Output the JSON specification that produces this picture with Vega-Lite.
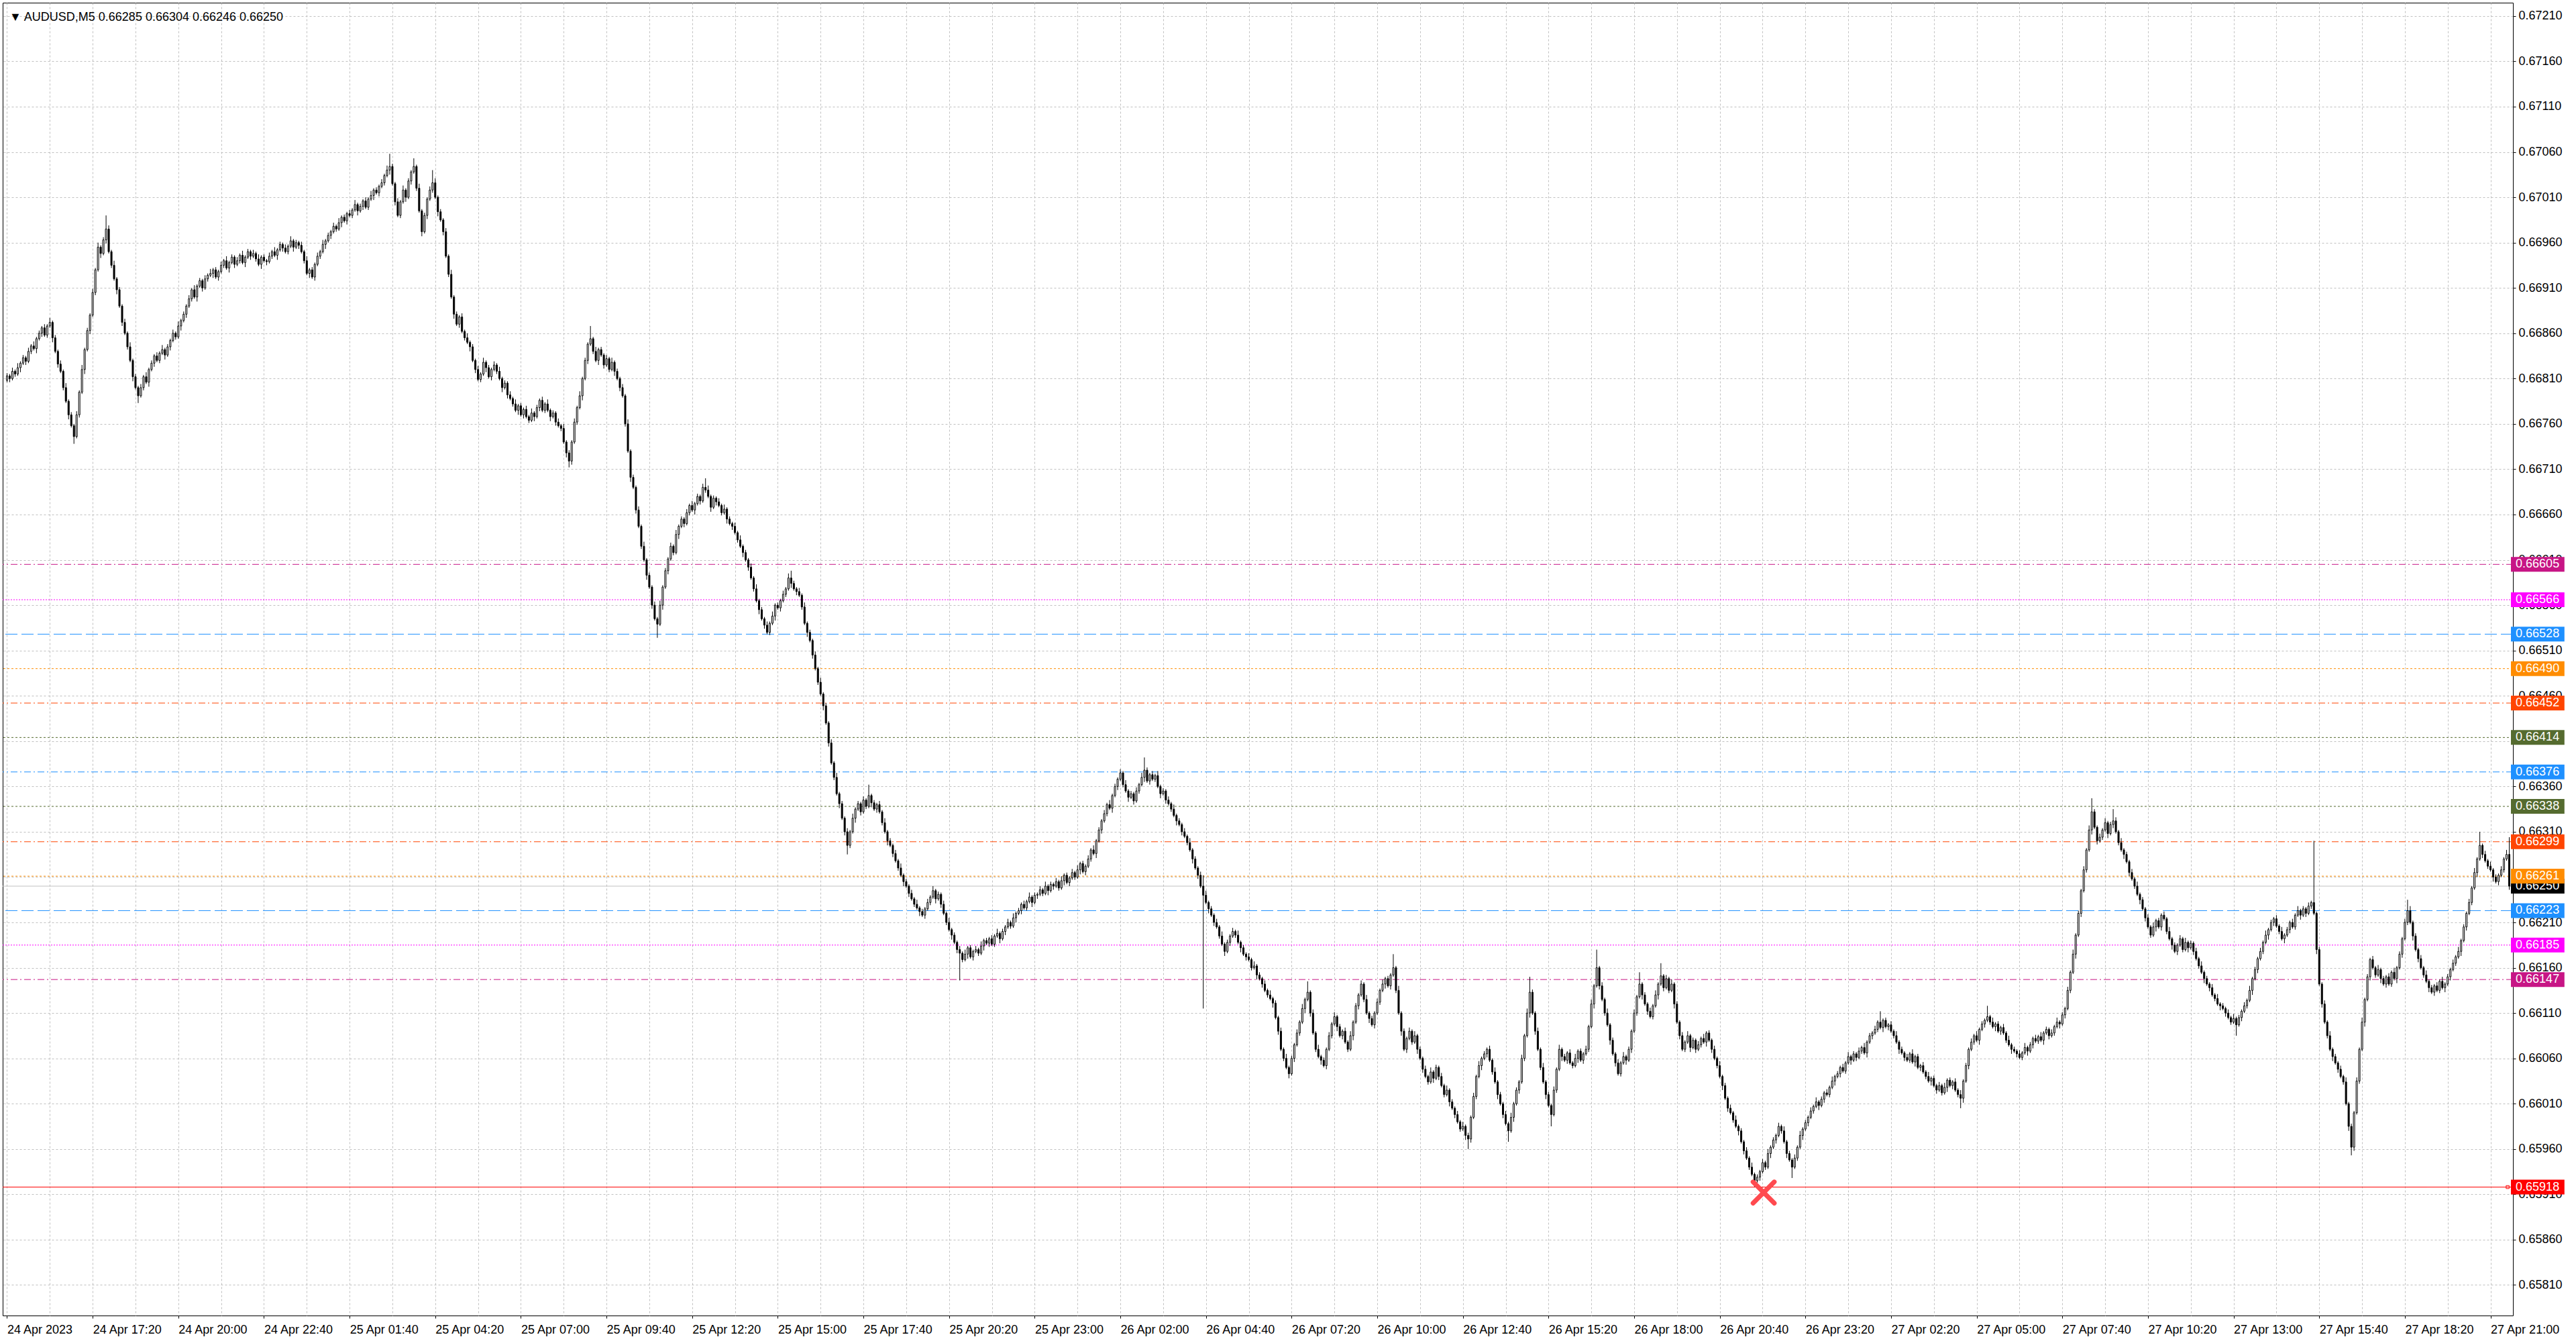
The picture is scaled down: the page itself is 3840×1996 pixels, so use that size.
{
"$schema":"https://vega.github.io/schema/vega-lite/v6.json",
"width":3742,"height":1957,"autosize":"none",
"padding":{"left":4,"top":4,"right":94,"bottom":35},
"background":"#FFFFFF",
"config":{"view":{"stroke":"#000000","strokeWidth":1},"font":"Liberation Sans"},
"datasets":{
"levels":[
{"p":0.6625,"lv":"bid"},
{"p":0.66605,"lv":"6"},{"p":0.66566,"lv":"5"},{"p":0.66528,"lv":"4"},{"p":0.6649,"lv":"3"},{"p":0.66452,"lv":"2"},{"p":0.66414,"lv":"1"},{"p":0.66376,"lv":"0"},{"p":0.66338,"lv":"1"},{"p":0.66299,"lv":"2"},{"p":0.66261,"lv":"3"},{"p":0.66223,"lv":"4"},{"p":0.66185,"lv":"5"},{"p":0.66147,"lv":"6"},{"p":0.65918,"lv":"low"}
],
"bars":[
{"i":0,"o":0.66808,"h":0.66816,"l":0.66806,"c":0.66813},
{"i":1,"o":0.66813,"h":0.66815,"l":0.66806,"c":0.66810},
{"i":2,"o":0.66810,"h":0.66822,"l":0.66808,"c":0.66818},
{"i":3,"o":0.66818,"h":0.66820,"l":0.66812,"c":0.66815},
{"i":4,"o":0.66815,"h":0.66827,"l":0.66813,"c":0.66822},
{"i":5,"o":0.66822,"h":0.66829,"l":0.66817,"c":0.66827},
{"i":6,"o":0.66827,"h":0.66836,"l":0.66825,"c":0.66833},
{"i":7,"o":0.66833,"h":0.66835,"l":0.66825,"c":0.66829},
{"i":8,"o":0.66829,"h":0.66844,"l":0.66827,"c":0.66840},
{"i":9,"o":0.66840,"h":0.66848,"l":0.66837,"c":0.66846},
{"i":10,"o":0.66846,"h":0.66851,"l":0.66841,"c":0.66843},
{"i":11,"o":0.66843,"h":0.66856,"l":0.66838,"c":0.66854},
{"i":12,"o":0.66854,"h":0.66863,"l":0.66852,"c":0.66860},
{"i":13,"o":0.66860,"h":0.66868,"l":0.66856,"c":0.66866},
{"i":14,"o":0.66866,"h":0.66870,"l":0.66856,"c":0.66858},
{"i":15,"o":0.66858,"h":0.66870,"l":0.66855,"c":0.66868},
{"i":16,"o":0.66868,"h":0.66877,"l":0.66866,"c":0.66872},
{"i":17,"o":0.66872,"h":0.66874,"l":0.66850,"c":0.66855},
{"i":18,"o":0.66855,"h":0.66858,"l":0.66838,"c":0.66840},
{"i":19,"o":0.66840,"h":0.66842,"l":0.66822,"c":0.66826},
{"i":20,"o":0.66826,"h":0.66830,"l":0.66816,"c":0.66818},
{"i":21,"o":0.66818,"h":0.66820,"l":0.66797,"c":0.66800},
{"i":22,"o":0.66800,"h":0.66805,"l":0.66783,"c":0.66785},
{"i":23,"o":0.66785,"h":0.66787,"l":0.66765,"c":0.66770},
{"i":24,"o":0.66770,"h":0.66773,"l":0.66756,"c":0.66758},
{"i":25,"o":0.66758,"h":0.66760,"l":0.66738,"c":0.66746},
{"i":26,"o":0.66746,"h":0.66774,"l":0.66744,"c":0.66770},
{"i":27,"o":0.66770,"h":0.66797,"l":0.66767,"c":0.66795},
{"i":28,"o":0.66795,"h":0.66825,"l":0.66793,"c":0.66820},
{"i":29,"o":0.66820,"h":0.66844,"l":0.66815,"c":0.66842},
{"i":30,"o":0.66842,"h":0.66866,"l":0.66840,"c":0.66863},
{"i":31,"o":0.66863,"h":0.66882,"l":0.66859,"c":0.66880},
{"i":32,"o":0.66880,"h":0.66909,"l":0.66878,"c":0.66905},
{"i":33,"o":0.66905,"h":0.66932,"l":0.66902,"c":0.66930},
{"i":34,"o":0.66930,"h":0.66960,"l":0.66928,"c":0.66955},
{"i":35,"o":0.66955,"h":0.66957,"l":0.66943,"c":0.66948},
{"i":36,"o":0.66948,"h":0.66966,"l":0.66946,"c":0.66963},
{"i":37,"o":0.66963,"h":0.66990,"l":0.66959,"c":0.66975},
{"i":38,"o":0.66975,"h":0.66979,"l":0.66948,"c":0.66950},
{"i":39,"o":0.66950,"h":0.66952,"l":0.66932,"c":0.66935},
{"i":40,"o":0.66935,"h":0.66940,"l":0.66918,"c":0.66920},
{"i":41,"o":0.66920,"h":0.66922,"l":0.66903,"c":0.66908},
{"i":42,"o":0.66908,"h":0.66911,"l":0.66888,"c":0.66890},
{"i":43,"o":0.66890,"h":0.66892,"l":0.66868,"c":0.66872},
{"i":44,"o":0.66872,"h":0.66876,"l":0.66858,"c":0.66860},
{"i":45,"o":0.66860,"h":0.66862,"l":0.66842,"c":0.66845},
{"i":46,"o":0.66845,"h":0.66850,"l":0.66828,"c":0.66830},
{"i":47,"o":0.66830,"h":0.66832,"l":0.66807,"c":0.66812},
{"i":48,"o":0.66812,"h":0.66815,"l":0.66798,"c":0.66800},
{"i":49,"o":0.66800,"h":0.66802,"l":0.66783,"c":0.66791},
{"i":50,"o":0.66791,"h":0.66804,"l":0.66789,"c":0.66800},
{"i":51,"o":0.66800,"h":0.66814,"l":0.66797,"c":0.66812},
{"i":52,"o":0.66812,"h":0.66817,"l":0.66804,"c":0.66806},
{"i":53,"o":0.66806,"h":0.66822,"l":0.66801,"c":0.66820},
{"i":54,"o":0.66820,"h":0.66830,"l":0.66818,"c":0.66827},
{"i":55,"o":0.66827,"h":0.66837,"l":0.66823,"c":0.66835},
{"i":56,"o":0.66835,"h":0.66839,"l":0.66828,"c":0.66830},
{"i":57,"o":0.66830,"h":0.66840,"l":0.66827,"c":0.66838},
{"i":58,"o":0.66838,"h":0.66847,"l":0.66836,"c":0.66842},
{"i":59,"o":0.66842,"h":0.66844,"l":0.66831,"c":0.66836},
{"i":60,"o":0.66836,"h":0.66848,"l":0.66834,"c":0.66845},
{"i":61,"o":0.66845,"h":0.66854,"l":0.66841,"c":0.66852},
{"i":62,"o":0.66852,"h":0.66864,"l":0.66850,"c":0.66860},
{"i":63,"o":0.66860,"h":0.66862,"l":0.66853,"c":0.66856},
{"i":64,"o":0.66856,"h":0.66873,"l":0.66854,"c":0.66868},
{"i":65,"o":0.66868,"h":0.66876,"l":0.66863,"c":0.66874},
{"i":66,"o":0.66874,"h":0.66884,"l":0.66872,"c":0.66881},
{"i":67,"o":0.66881,"h":0.66892,"l":0.66877,"c":0.66890},
{"i":68,"o":0.66890,"h":0.66902,"l":0.66888,"c":0.66898},
{"i":69,"o":0.66898,"h":0.66910,"l":0.66895,"c":0.66908},
{"i":70,"o":0.66908,"h":0.66913,"l":0.66898,"c":0.66900},
{"i":71,"o":0.66900,"h":0.66914,"l":0.66895,"c":0.66912},
{"i":72,"o":0.66912,"h":0.66921,"l":0.66910,"c":0.66918},
{"i":73,"o":0.66918,"h":0.66920,"l":0.66906,"c":0.66910},
{"i":74,"o":0.66910,"h":0.66924,"l":0.66908,"c":0.66920},
{"i":75,"o":0.66920,"h":0.66926,"l":0.66917,"c":0.66924},
{"i":76,"o":0.66924,"h":0.66931,"l":0.66922,"c":0.66926},
{"i":77,"o":0.66926,"h":0.66932,"l":0.66921,"c":0.66930},
{"i":78,"o":0.66930,"h":0.66933,"l":0.66920,"c":0.66922},
{"i":79,"o":0.66922,"h":0.66930,"l":0.66918,"c":0.66928},
{"i":80,"o":0.66928,"h":0.66939,"l":0.66926,"c":0.66935},
{"i":81,"o":0.66935,"h":0.66942,"l":0.66932,"c":0.66940},
{"i":82,"o":0.66940,"h":0.66945,"l":0.66930,"c":0.66932},
{"i":83,"o":0.66932,"h":0.66940,"l":0.66927,"c":0.66938},
{"i":84,"o":0.66938,"h":0.66947,"l":0.66936,"c":0.66944},
{"i":85,"o":0.66944,"h":0.66946,"l":0.66932,"c":0.66936},
{"i":86,"o":0.66936,"h":0.66944,"l":0.66934,"c":0.66940},
{"i":87,"o":0.66940,"h":0.66948,"l":0.66937,"c":0.66946},
{"i":88,"o":0.66946,"h":0.66951,"l":0.66936,"c":0.66938},
{"i":89,"o":0.66938,"h":0.66946,"l":0.66933,"c":0.66944},
{"i":90,"o":0.66944,"h":0.66953,"l":0.66942,"c":0.66950},
{"i":91,"o":0.66950,"h":0.66952,"l":0.66941,"c":0.66945},
{"i":92,"o":0.66945,"h":0.66952,"l":0.66943,"c":0.66948},
{"i":93,"o":0.66948,"h":0.66950,"l":0.66939,"c":0.66942},
{"i":94,"o":0.66942,"h":0.66947,"l":0.66934,"c":0.66936},
{"i":95,"o":0.66936,"h":0.66946,"l":0.66931,"c":0.66944},
{"i":96,"o":0.66944,"h":0.66947,"l":0.66938,"c":0.66940},
{"i":97,"o":0.66940,"h":0.66942,"l":0.66935,"c":0.66939},
{"i":98,"o":0.66939,"h":0.66949,"l":0.66937,"c":0.66945},
{"i":99,"o":0.66945,"h":0.66952,"l":0.66942,"c":0.66950},
{"i":100,"o":0.66950,"h":0.66955,"l":0.66944,"c":0.66946},
{"i":101,"o":0.66946,"h":0.66954,"l":0.66941,"c":0.66952},
{"i":102,"o":0.66952,"h":0.66961,"l":0.66950,"c":0.66958},
{"i":103,"o":0.66958,"h":0.66960,"l":0.66950,"c":0.66954},
{"i":104,"o":0.66954,"h":0.66958,"l":0.66948,"c":0.66950},
{"i":105,"o":0.66950,"h":0.66958,"l":0.66947,"c":0.66956},
{"i":106,"o":0.66956,"h":0.66967,"l":0.66954,"c":0.66962},
{"i":107,"o":0.66962,"h":0.66964,"l":0.66950,"c":0.66955},
{"i":108,"o":0.66955,"h":0.66963,"l":0.66953,"c":0.66960},
{"i":109,"o":0.66960,"h":0.66962,"l":0.66953,"c":0.66957},
{"i":110,"o":0.66957,"h":0.66961,"l":0.66948,"c":0.66950},
{"i":111,"o":0.66950,"h":0.66952,"l":0.66937,"c":0.66940},
{"i":112,"o":0.66940,"h":0.66945,"l":0.66924,"c":0.66926},
{"i":113,"o":0.66926,"h":0.66932,"l":0.66921,"c":0.66930},
{"i":114,"o":0.66930,"h":0.66933,"l":0.66920,"c":0.66922},
{"i":115,"o":0.66922,"h":0.66938,"l":0.66918,"c":0.66936},
{"i":116,"o":0.66936,"h":0.66949,"l":0.66934,"c":0.66945},
{"i":117,"o":0.66945,"h":0.66952,"l":0.66942,"c":0.66950},
{"i":118,"o":0.66950,"h":0.66963,"l":0.66948,"c":0.66958},
{"i":119,"o":0.66958,"h":0.66964,"l":0.66953,"c":0.66962},
{"i":120,"o":0.66962,"h":0.66971,"l":0.66960,"c":0.66968},
{"i":121,"o":0.66968,"h":0.66974,"l":0.66964,"c":0.66972},
{"i":122,"o":0.66972,"h":0.66982,"l":0.66970,"c":0.66978},
{"i":123,"o":0.66978,"h":0.66980,"l":0.66972,"c":0.66975},
{"i":124,"o":0.66975,"h":0.66987,"l":0.66973,"c":0.66982},
{"i":125,"o":0.66982,"h":0.66990,"l":0.66977,"c":0.66988},
{"i":126,"o":0.66988,"h":0.66991,"l":0.66982,"c":0.66984},
{"i":127,"o":0.66984,"h":0.66994,"l":0.66980,"c":0.66992},
{"i":128,"o":0.66992,"h":0.66996,"l":0.66988,"c":0.66990},
{"i":129,"o":0.66990,"h":0.66998,"l":0.66987,"c":0.66996},
{"i":130,"o":0.66996,"h":0.67007,"l":0.66994,"c":0.67002},
{"i":131,"o":0.67002,"h":0.67004,"l":0.66990,"c":0.66995},
{"i":132,"o":0.66995,"h":0.67003,"l":0.66993,"c":0.67000},
{"i":133,"o":0.67000,"h":0.67008,"l":0.66996,"c":0.67006},
{"i":134,"o":0.67006,"h":0.67010,"l":0.66997,"c":0.66999},
{"i":135,"o":0.66999,"h":0.67010,"l":0.66996,"c":0.67008},
{"i":136,"o":0.67008,"h":0.67017,"l":0.67006,"c":0.67012},
{"i":137,"o":0.67012,"h":0.67020,"l":0.67007,"c":0.67018},
{"i":138,"o":0.67018,"h":0.67021,"l":0.67013,"c":0.67015},
{"i":139,"o":0.67015,"h":0.67024,"l":0.67011,"c":0.67022},
{"i":140,"o":0.67022,"h":0.67030,"l":0.67020,"c":0.67026},
{"i":141,"o":0.67026,"h":0.67036,"l":0.67023,"c":0.67034},
{"i":142,"o":0.67034,"h":0.67045,"l":0.67032,"c":0.67040},
{"i":143,"o":0.67040,"h":0.67058,"l":0.67035,"c":0.67044},
{"i":144,"o":0.67044,"h":0.67047,"l":0.67023,"c":0.67025},
{"i":145,"o":0.67025,"h":0.67027,"l":0.67001,"c":0.67005},
{"i":146,"o":0.67005,"h":0.67009,"l":0.66988,"c":0.66990},
{"i":147,"o":0.66990,"h":0.67007,"l":0.66987,"c":0.67005},
{"i":148,"o":0.67005,"h":0.67023,"l":0.67003,"c":0.67018},
{"i":149,"o":0.67018,"h":0.67020,"l":0.67005,"c":0.67010},
{"i":150,"o":0.67010,"h":0.67031,"l":0.67008,"c":0.67028},
{"i":151,"o":0.67028,"h":0.67040,"l":0.67024,"c":0.67038},
{"i":152,"o":0.67038,"h":0.67053,"l":0.67036,"c":0.67044},
{"i":153,"o":0.67044,"h":0.67046,"l":0.67017,"c":0.67020},
{"i":154,"o":0.67020,"h":0.67025,"l":0.66993,"c":0.66995},
{"i":155,"o":0.66995,"h":0.66997,"l":0.66967,"c":0.66972},
{"i":156,"o":0.66972,"h":0.66993,"l":0.66970,"c":0.66990},
{"i":157,"o":0.66990,"h":0.67010,"l":0.66986,"c":0.67008},
{"i":158,"o":0.67008,"h":0.67022,"l":0.67006,"c":0.67018},
{"i":159,"o":0.67018,"h":0.67040,"l":0.67015,"c":0.67026},
{"i":160,"o":0.67026,"h":0.67031,"l":0.67008,"c":0.67010},
{"i":161,"o":0.67010,"h":0.67012,"l":0.66989,"c":0.66994},
{"i":162,"o":0.66994,"h":0.66997,"l":0.66983,"c":0.66985},
{"i":163,"o":0.66985,"h":0.66987,"l":0.66968,"c":0.66972},
{"i":164,"o":0.66972,"h":0.66976,"l":0.66943,"c":0.66945},
{"i":165,"o":0.66945,"h":0.66947,"l":0.66922,"c":0.66925},
{"i":166,"o":0.66925,"h":0.66930,"l":0.66898,"c":0.66900},
{"i":167,"o":0.66900,"h":0.66902,"l":0.66876,"c":0.66881},
{"i":168,"o":0.66881,"h":0.66884,"l":0.66868,"c":0.66870},
{"i":169,"o":0.66870,"h":0.66880,"l":0.66866,"c":0.66878},
{"i":170,"o":0.66878,"h":0.66882,"l":0.66860,"c":0.66862},
{"i":171,"o":0.66862,"h":0.66864,"l":0.66852,"c":0.66855},
{"i":172,"o":0.66855,"h":0.66860,"l":0.66848,"c":0.66850},
{"i":173,"o":0.66850,"h":0.66852,"l":0.66840,"c":0.66845},
{"i":174,"o":0.66845,"h":0.66848,"l":0.66828,"c":0.66830},
{"i":175,"o":0.66830,"h":0.66832,"l":0.66816,"c":0.66820},
{"i":176,"o":0.66820,"h":0.66824,"l":0.66807,"c":0.66809},
{"i":177,"o":0.66809,"h":0.66817,"l":0.66806,"c":0.66815},
{"i":178,"o":0.66815,"h":0.66833,"l":0.66813,"c":0.66828},
{"i":179,"o":0.66828,"h":0.66830,"l":0.66817,"c":0.66822},
{"i":180,"o":0.66822,"h":0.66825,"l":0.66810,"c":0.66812},
{"i":181,"o":0.66812,"h":0.66822,"l":0.66808,"c":0.66820},
{"i":182,"o":0.66820,"h":0.66829,"l":0.66818,"c":0.66825},
{"i":183,"o":0.66825,"h":0.66827,"l":0.66815,"c":0.66818},
{"i":184,"o":0.66818,"h":0.66823,"l":0.66808,"c":0.66810},
{"i":185,"o":0.66810,"h":0.66812,"l":0.66795,"c":0.66800},
{"i":186,"o":0.66800,"h":0.66808,"l":0.66798,"c":0.66805},
{"i":187,"o":0.66805,"h":0.66807,"l":0.66788,"c":0.66792},
{"i":188,"o":0.66792,"h":0.66796,"l":0.66786,"c":0.66788},
{"i":189,"o":0.66788,"h":0.66790,"l":0.66779,"c":0.66782},
{"i":190,"o":0.66782,"h":0.66787,"l":0.66773,"c":0.66775},
{"i":191,"o":0.66775,"h":0.66782,"l":0.66770,"c":0.66780},
{"i":192,"o":0.66780,"h":0.66783,"l":0.66768,"c":0.66770},
{"i":193,"o":0.66770,"h":0.66778,"l":0.66766,"c":0.66776},
{"i":194,"o":0.66776,"h":0.66780,"l":0.66766,"c":0.66768},
{"i":195,"o":0.66768,"h":0.66770,"l":0.66761,"c":0.66764},
{"i":196,"o":0.66764,"h":0.66777,"l":0.66762,"c":0.66772},
{"i":197,"o":0.66772,"h":0.66774,"l":0.66763,"c":0.66768},
{"i":198,"o":0.66768,"h":0.66781,"l":0.66766,"c":0.66778},
{"i":199,"o":0.66778,"h":0.66788,"l":0.66774,"c":0.66786},
{"i":200,"o":0.66786,"h":0.66790,"l":0.66773,"c":0.66775},
{"i":201,"o":0.66775,"h":0.66784,"l":0.66772,"c":0.66782},
{"i":202,"o":0.66782,"h":0.66787,"l":0.66773,"c":0.66775},
{"i":203,"o":0.66775,"h":0.66777,"l":0.66763,"c":0.66768},
{"i":204,"o":0.66768,"h":0.66775,"l":0.66766,"c":0.66772},
{"i":205,"o":0.66772,"h":0.66774,"l":0.66758,"c":0.66762},
{"i":206,"o":0.66762,"h":0.66766,"l":0.66756,"c":0.66758},
{"i":207,"o":0.66758,"h":0.66760,"l":0.66752,"c":0.66755},
{"i":208,"o":0.66755,"h":0.66760,"l":0.66738,"c":0.66740},
{"i":209,"o":0.66740,"h":0.66742,"l":0.66723,"c":0.66728},
{"i":210,"o":0.66728,"h":0.66731,"l":0.66712,"c":0.66719},
{"i":211,"o":0.66719,"h":0.66742,"l":0.66715,"c":0.66740},
{"i":212,"o":0.66740,"h":0.66766,"l":0.66738,"c":0.66762},
{"i":213,"o":0.66762,"h":0.66780,"l":0.66759,"c":0.66778},
{"i":214,"o":0.66778,"h":0.66796,"l":0.66776,"c":0.66791},
{"i":215,"o":0.66791,"h":0.66812,"l":0.66786,"c":0.66810},
{"i":216,"o":0.66810,"h":0.66833,"l":0.66808,"c":0.66830},
{"i":217,"o":0.66830,"h":0.66850,"l":0.66826,"c":0.66848},
{"i":218,"o":0.66848,"h":0.66868,"l":0.66846,"c":0.66854},
{"i":219,"o":0.66854,"h":0.66856,"l":0.66837,"c":0.66840},
{"i":220,"o":0.66840,"h":0.66845,"l":0.66828,"c":0.66830},
{"i":221,"o":0.66830,"h":0.66844,"l":0.66825,"c":0.66842},
{"i":222,"o":0.66842,"h":0.66845,"l":0.66834,"c":0.66836},
{"i":223,"o":0.66836,"h":0.66838,"l":0.66821,"c":0.66825},
{"i":224,"o":0.66825,"h":0.66836,"l":0.66823,"c":0.66832},
{"i":225,"o":0.66832,"h":0.66834,"l":0.66817,"c":0.66820},
{"i":226,"o":0.66820,"h":0.66833,"l":0.66818,"c":0.66828},
{"i":227,"o":0.66828,"h":0.66830,"l":0.66813,"c":0.66818},
{"i":228,"o":0.66818,"h":0.66821,"l":0.66808,"c":0.66810},
{"i":229,"o":0.66810,"h":0.66812,"l":0.66796,"c":0.66800},
{"i":230,"o":0.66800,"h":0.66804,"l":0.66789,"c":0.66791},
{"i":231,"o":0.66791,"h":0.66793,"l":0.66757,"c":0.66760},
{"i":232,"o":0.66760,"h":0.66765,"l":0.66728,"c":0.66730},
{"i":233,"o":0.66730,"h":0.66732,"l":0.66696,"c":0.66701},
{"i":234,"o":0.66701,"h":0.66704,"l":0.66688,"c":0.66690},
{"i":235,"o":0.66690,"h":0.66692,"l":0.66661,"c":0.66665},
{"i":236,"o":0.66665,"h":0.66669,"l":0.66645,"c":0.66647},
{"i":237,"o":0.66647,"h":0.66649,"l":0.66622,"c":0.66625},
{"i":238,"o":0.66625,"h":0.66630,"l":0.66608,"c":0.66610},
{"i":239,"o":0.66610,"h":0.66612,"l":0.66588,"c":0.66593},
{"i":240,"o":0.66593,"h":0.66596,"l":0.66578,"c":0.66580},
{"i":241,"o":0.66580,"h":0.66582,"l":0.66556,"c":0.66560},
{"i":242,"o":0.66560,"h":0.66564,"l":0.66543,"c":0.66545},
{"i":243,"o":0.66545,"h":0.66547,"l":0.66524,"c":0.66539},
{"i":244,"o":0.66539,"h":0.66565,"l":0.66537,"c":0.66560},
{"i":245,"o":0.66560,"h":0.66582,"l":0.66555,"c":0.66580},
{"i":246,"o":0.66580,"h":0.66601,"l":0.66578,"c":0.66598},
{"i":247,"o":0.66598,"h":0.66613,"l":0.66594,"c":0.66611},
{"i":248,"o":0.66611,"h":0.66629,"l":0.66609,"c":0.66625},
{"i":249,"o":0.66625,"h":0.66627,"l":0.66615,"c":0.66618},
{"i":250,"o":0.66618,"h":0.66643,"l":0.66616,"c":0.66638},
{"i":251,"o":0.66638,"h":0.66649,"l":0.66633,"c":0.66647},
{"i":252,"o":0.66647,"h":0.66658,"l":0.66645,"c":0.66655},
{"i":253,"o":0.66655,"h":0.66657,"l":0.66646,"c":0.66650},
{"i":254,"o":0.66650,"h":0.66666,"l":0.66648,"c":0.66662},
{"i":255,"o":0.66662,"h":0.66672,"l":0.66659,"c":0.66670},
{"i":256,"o":0.66670,"h":0.66675,"l":0.66663,"c":0.66665},
{"i":257,"o":0.66665,"h":0.66674,"l":0.66660,"c":0.66672},
{"i":258,"o":0.66672,"h":0.66683,"l":0.66670,"c":0.66680},
{"i":259,"o":0.66680,"h":0.66682,"l":0.66671,"c":0.66675},
{"i":260,"o":0.66675,"h":0.66694,"l":0.66673,"c":0.66690},
{"i":261,"o":0.66690,"h":0.66700,"l":0.66684,"c":0.66687},
{"i":262,"o":0.66687,"h":0.66692,"l":0.66678,"c":0.66680},
{"i":263,"o":0.66680,"h":0.66682,"l":0.66663,"c":0.66668},
{"i":264,"o":0.66668,"h":0.66681,"l":0.66666,"c":0.66678},
{"i":265,"o":0.66678,"h":0.66680,"l":0.66670,"c":0.66674},
{"i":266,"o":0.66674,"h":0.66678,"l":0.66668,"c":0.66670},
{"i":267,"o":0.66670,"h":0.66672,"l":0.66659,"c":0.66662},
{"i":268,"o":0.66662,"h":0.66671,"l":0.66660,"c":0.66666},
{"i":269,"o":0.66666,"h":0.66668,"l":0.66650,"c":0.66655},
{"i":270,"o":0.66655,"h":0.66658,"l":0.66648,"c":0.66650},
{"i":271,"o":0.66650,"h":0.66652,"l":0.66643,"c":0.66647},
{"i":272,"o":0.66647,"h":0.66651,"l":0.66638,"c":0.66640},
{"i":273,"o":0.66640,"h":0.66642,"l":0.66629,"c":0.66632},
{"i":274,"o":0.66632,"h":0.66637,"l":0.66623,"c":0.66625},
{"i":275,"o":0.66625,"h":0.66627,"l":0.66613,"c":0.66618},
{"i":276,"o":0.66618,"h":0.66621,"l":0.66608,"c":0.66610},
{"i":277,"o":0.66610,"h":0.66612,"l":0.66598,"c":0.66602},
{"i":278,"o":0.66602,"h":0.66606,"l":0.66588,"c":0.66590},
{"i":279,"o":0.66590,"h":0.66592,"l":0.66575,"c":0.66578},
{"i":280,"o":0.66578,"h":0.66583,"l":0.66563,"c":0.66565},
{"i":281,"o":0.66565,"h":0.66567,"l":0.66550,"c":0.66555},
{"i":282,"o":0.66555,"h":0.66558,"l":0.66543,"c":0.66545},
{"i":283,"o":0.66545,"h":0.66547,"l":0.66534,"c":0.66538},
{"i":284,"o":0.66538,"h":0.66542,"l":0.66528,"c":0.66530},
{"i":285,"o":0.66530,"h":0.66542,"l":0.66527,"c":0.66540},
{"i":286,"o":0.66540,"h":0.66553,"l":0.66538,"c":0.66548},
{"i":287,"o":0.66548,"h":0.66562,"l":0.66543,"c":0.66560},
{"i":288,"o":0.66560,"h":0.66563,"l":0.66555,"c":0.66557},
{"i":289,"o":0.66557,"h":0.66567,"l":0.66553,"c":0.66565},
{"i":290,"o":0.66565,"h":0.66576,"l":0.66563,"c":0.66572},
{"i":291,"o":0.66572,"h":0.66580,"l":0.66569,"c":0.66578},
{"i":292,"o":0.66578,"h":0.66595,"l":0.66576,"c":0.66590},
{"i":293,"o":0.66590,"h":0.66598,"l":0.66579,"c":0.66584},
{"i":294,"o":0.66584,"h":0.66587,"l":0.66576,"c":0.66578},
{"i":295,"o":0.66578,"h":0.66580,"l":0.66571,"c":0.66575},
{"i":296,"o":0.66575,"h":0.66579,"l":0.66569,"c":0.66571},
{"i":297,"o":0.66571,"h":0.66573,"l":0.66555,"c":0.66558},
{"i":298,"o":0.66558,"h":0.66563,"l":0.66538,"c":0.66540},
{"i":299,"o":0.66540,"h":0.66542,"l":0.66525,"c":0.66530},
{"i":300,"o":0.66530,"h":0.66533,"l":0.66519,"c":0.66521},
{"i":301,"o":0.66521,"h":0.66523,"l":0.66501,"c":0.66505},
{"i":302,"o":0.66505,"h":0.66509,"l":0.66488,"c":0.66490},
{"i":303,"o":0.66490,"h":0.66492,"l":0.66472,"c":0.66475},
{"i":304,"o":0.66475,"h":0.66480,"l":0.66460,"c":0.66462},
{"i":305,"o":0.66462,"h":0.66464,"l":0.66444,"c":0.66449},
{"i":306,"o":0.66449,"h":0.66452,"l":0.66428,"c":0.66430},
{"i":307,"o":0.66430,"h":0.66432,"l":0.66404,"c":0.66408},
{"i":308,"o":0.66408,"h":0.66412,"l":0.66384,"c":0.66386},
{"i":309,"o":0.66386,"h":0.66388,"l":0.66367,"c":0.66370},
{"i":310,"o":0.66370,"h":0.66375,"l":0.66350,"c":0.66352},
{"i":311,"o":0.66352,"h":0.66354,"l":0.66336,"c":0.66341},
{"i":312,"o":0.66341,"h":0.66344,"l":0.66323,"c":0.66325},
{"i":313,"o":0.66325,"h":0.66327,"l":0.66306,"c":0.66310},
{"i":314,"o":0.66310,"h":0.66314,"l":0.66285,"c":0.66295},
{"i":315,"o":0.66295,"h":0.66312,"l":0.66292,"c":0.66310},
{"i":316,"o":0.66310,"h":0.66330,"l":0.66308,"c":0.66325},
{"i":317,"o":0.66325,"h":0.66337,"l":0.66320,"c":0.66335},
{"i":318,"o":0.66335,"h":0.66344,"l":0.66333,"c":0.66341},
{"i":319,"o":0.66341,"h":0.66343,"l":0.66328,"c":0.66332},
{"i":320,"o":0.66332,"h":0.66349,"l":0.66330,"c":0.66345},
{"i":321,"o":0.66345,"h":0.66347,"l":0.66335,"c":0.66338},
{"i":322,"o":0.66338,"h":0.66362,"l":0.66336,"c":0.66350},
{"i":323,"o":0.66350,"h":0.66352,"l":0.66337,"c":0.66342},
{"i":324,"o":0.66342,"h":0.66345,"l":0.66333,"c":0.66335},
{"i":325,"o":0.66335,"h":0.66342,"l":0.66331,"c":0.66340},
{"i":326,"o":0.66340,"h":0.66344,"l":0.66330,"c":0.66332},
{"i":327,"o":0.66332,"h":0.66334,"l":0.66317,"c":0.66320},
{"i":328,"o":0.66320,"h":0.66325,"l":0.66308,"c":0.66310},
{"i":329,"o":0.66310,"h":0.66312,"l":0.66295,"c":0.66300},
{"i":330,"o":0.66300,"h":0.66303,"l":0.66293,"c":0.66295},
{"i":331,"o":0.66295,"h":0.66297,"l":0.66282,"c":0.66286},
{"i":332,"o":0.66286,"h":0.66290,"l":0.66276,"c":0.66278},
{"i":333,"o":0.66278,"h":0.66280,"l":0.66267,"c":0.66270},
{"i":334,"o":0.66270,"h":0.66275,"l":0.66260,"c":0.66262},
{"i":335,"o":0.66262,"h":0.66264,"l":0.66250,"c":0.66255},
{"i":336,"o":0.66255,"h":0.66258,"l":0.66248,"c":0.66250},
{"i":337,"o":0.66250,"h":0.66252,"l":0.66238,"c":0.66242},
{"i":338,"o":0.66242,"h":0.66246,"l":0.66234,"c":0.66236},
{"i":339,"o":0.66236,"h":0.66238,"l":0.66227,"c":0.66230},
{"i":340,"o":0.66230,"h":0.66235,"l":0.66224,"c":0.66226},
{"i":341,"o":0.66226,"h":0.66228,"l":0.66217,"c":0.66222},
{"i":342,"o":0.66222,"h":0.66225,"l":0.66216,"c":0.66218},
{"i":343,"o":0.66218,"h":0.66227,"l":0.66214,"c":0.66225},
{"i":344,"o":0.66225,"h":0.66236,"l":0.66223,"c":0.66232},
{"i":345,"o":0.66232,"h":0.66240,"l":0.66229,"c":0.66238},
{"i":346,"o":0.66238,"h":0.66250,"l":0.66236,"c":0.66245},
{"i":347,"o":0.66245,"h":0.66247,"l":0.66231,"c":0.66236},
{"i":348,"o":0.66236,"h":0.66244,"l":0.66234,"c":0.66241},
{"i":349,"o":0.66241,"h":0.66243,"l":0.66226,"c":0.66230},
{"i":350,"o":0.66230,"h":0.66234,"l":0.66218,"c":0.66220},
{"i":351,"o":0.66220,"h":0.66222,"l":0.66207,"c":0.66210},
{"i":352,"o":0.66210,"h":0.66215,"l":0.66200,"c":0.66202},
{"i":353,"o":0.66202,"h":0.66204,"l":0.66191,"c":0.66196},
{"i":354,"o":0.66196,"h":0.66199,"l":0.66186,"c":0.66188},
{"i":355,"o":0.66188,"h":0.66190,"l":0.66176,"c":0.66180},
{"i":356,"o":0.66180,"h":0.66184,"l":0.66146,"c":0.66176},
{"i":357,"o":0.66176,"h":0.66178,"l":0.66166,"c":0.66169},
{"i":358,"o":0.66169,"h":0.66180,"l":0.66167,"c":0.66175},
{"i":359,"o":0.66175,"h":0.66184,"l":0.66170,"c":0.66182},
{"i":360,"o":0.66182,"h":0.66185,"l":0.66170,"c":0.66172},
{"i":361,"o":0.66172,"h":0.66180,"l":0.66168,"c":0.66178},
{"i":362,"o":0.66178,"h":0.66184,"l":0.66176,"c":0.66180},
{"i":363,"o":0.66180,"h":0.66182,"l":0.66173,"c":0.66176},
{"i":364,"o":0.66176,"h":0.66189,"l":0.66174,"c":0.66184},
{"i":365,"o":0.66184,"h":0.66192,"l":0.66179,"c":0.66190},
{"i":366,"o":0.66190,"h":0.66193,"l":0.66185,"c":0.66187},
{"i":367,"o":0.66187,"h":0.66194,"l":0.66183,"c":0.66192},
{"i":368,"o":0.66192,"h":0.66196,"l":0.66184,"c":0.66186},
{"i":369,"o":0.66186,"h":0.66197,"l":0.66183,"c":0.66195},
{"i":370,"o":0.66195,"h":0.66203,"l":0.66193,"c":0.66198},
{"i":371,"o":0.66198,"h":0.66200,"l":0.66187,"c":0.66192},
{"i":372,"o":0.66192,"h":0.66203,"l":0.66190,"c":0.66200},
{"i":373,"o":0.66200,"h":0.66207,"l":0.66196,"c":0.66205},
{"i":374,"o":0.66205,"h":0.66214,"l":0.66203,"c":0.66210},
{"i":375,"o":0.66210,"h":0.66212,"l":0.66203,"c":0.66206},
{"i":376,"o":0.66206,"h":0.66220,"l":0.66204,"c":0.66215},
{"i":377,"o":0.66215,"h":0.66222,"l":0.66210,"c":0.66220},
{"i":378,"o":0.66220,"h":0.66226,"l":0.66218,"c":0.66223},
{"i":379,"o":0.66223,"h":0.66232,"l":0.66219,"c":0.66230},
{"i":380,"o":0.66230,"h":0.66234,"l":0.66224,"c":0.66226},
{"i":381,"o":0.66226,"h":0.66235,"l":0.66223,"c":0.66233},
{"i":382,"o":0.66233,"h":0.66243,"l":0.66231,"c":0.66238},
{"i":383,"o":0.66238,"h":0.66240,"l":0.66227,"c":0.66232},
{"i":384,"o":0.66232,"h":0.66243,"l":0.66230,"c":0.66240},
{"i":385,"o":0.66240,"h":0.66243,"l":0.66236,"c":0.66241},
{"i":386,"o":0.66241,"h":0.66250,"l":0.66239,"c":0.66246},
{"i":387,"o":0.66246,"h":0.66248,"l":0.66239,"c":0.66242},
{"i":388,"o":0.66242,"h":0.66255,"l":0.66240,"c":0.66250},
{"i":389,"o":0.66250,"h":0.66252,"l":0.66240,"c":0.66245},
{"i":390,"o":0.66245,"h":0.66255,"l":0.66243,"c":0.66252},
{"i":391,"o":0.66252,"h":0.66254,"l":0.66246,"c":0.66250},
{"i":392,"o":0.66250,"h":0.66259,"l":0.66248,"c":0.66255},
{"i":393,"o":0.66255,"h":0.66257,"l":0.66245,"c":0.66248},
{"i":394,"o":0.66248,"h":0.66261,"l":0.66246,"c":0.66256},
{"i":395,"o":0.66256,"h":0.66264,"l":0.66251,"c":0.66262},
{"i":396,"o":0.66262,"h":0.66265,"l":0.66252,"c":0.66254},
{"i":397,"o":0.66254,"h":0.66261,"l":0.66250,"c":0.66259},
{"i":398,"o":0.66259,"h":0.66269,"l":0.66257,"c":0.66265},
{"i":399,"o":0.66265,"h":0.66267,"l":0.66257,"c":0.66260},
{"i":400,"o":0.66260,"h":0.66273,"l":0.66258,"c":0.66268},
{"i":401,"o":0.66268,"h":0.66277,"l":0.66263,"c":0.66275},
{"i":402,"o":0.66275,"h":0.66278,"l":0.66264,"c":0.66266},
{"i":403,"o":0.66266,"h":0.66274,"l":0.66262,"c":0.66272},
{"i":404,"o":0.66272,"h":0.66284,"l":0.66270,"c":0.66280},
{"i":405,"o":0.66280,"h":0.66292,"l":0.66277,"c":0.66290},
{"i":406,"o":0.66290,"h":0.66295,"l":0.66284,"c":0.66286},
{"i":407,"o":0.66286,"h":0.66302,"l":0.66281,"c":0.66300},
{"i":408,"o":0.66300,"h":0.66315,"l":0.66298,"c":0.66312},
{"i":409,"o":0.66312,"h":0.66324,"l":0.66308,"c":0.66322},
{"i":410,"o":0.66322,"h":0.66334,"l":0.66320,"c":0.66330},
{"i":411,"o":0.66330,"h":0.66342,"l":0.66327,"c":0.66340},
{"i":412,"o":0.66340,"h":0.66345,"l":0.66334,"c":0.66336},
{"i":413,"o":0.66336,"h":0.66352,"l":0.66331,"c":0.66350},
{"i":414,"o":0.66350,"h":0.66363,"l":0.66348,"c":0.66360},
{"i":415,"o":0.66360,"h":0.66370,"l":0.66356,"c":0.66368},
{"i":416,"o":0.66368,"h":0.66379,"l":0.66366,"c":0.66375},
{"i":417,"o":0.66375,"h":0.66377,"l":0.66359,"c":0.66362},
{"i":418,"o":0.66362,"h":0.66367,"l":0.66353,"c":0.66355},
{"i":419,"o":0.66355,"h":0.66357,"l":0.66343,"c":0.66348},
{"i":420,"o":0.66348,"h":0.66355,"l":0.66346,"c":0.66352},
{"i":421,"o":0.66352,"h":0.66354,"l":0.66340,"c":0.66344},
{"i":422,"o":0.66344,"h":0.66359,"l":0.66342,"c":0.66355},
{"i":423,"o":0.66355,"h":0.66364,"l":0.66352,"c":0.66362},
{"i":424,"o":0.66362,"h":0.66375,"l":0.66360,"c":0.66370},
{"i":425,"o":0.66370,"h":0.66392,"l":0.66365,"c":0.66378},
{"i":426,"o":0.66378,"h":0.66381,"l":0.66364,"c":0.66366},
{"i":427,"o":0.66366,"h":0.66375,"l":0.66362,"c":0.66373},
{"i":428,"o":0.66373,"h":0.66377,"l":0.66366,"c":0.66368},
{"i":429,"o":0.66368,"h":0.66374,"l":0.66365,"c":0.66372},
{"i":430,"o":0.66372,"h":0.66377,"l":0.66358,"c":0.66360},
{"i":431,"o":0.66360,"h":0.66362,"l":0.66347,"c":0.66352},
{"i":432,"o":0.66352,"h":0.66358,"l":0.66350,"c":0.66355},
{"i":433,"o":0.66355,"h":0.66357,"l":0.66341,"c":0.66345},
{"i":434,"o":0.66345,"h":0.66349,"l":0.66339,"c":0.66341},
{"i":435,"o":0.66341,"h":0.66343,"l":0.66332,"c":0.66335},
{"i":436,"o":0.66335,"h":0.66340,"l":0.66326,"c":0.66328},
{"i":437,"o":0.66328,"h":0.66330,"l":0.66317,"c":0.66322},
{"i":438,"o":0.66322,"h":0.66325,"l":0.66316,"c":0.66318},
{"i":439,"o":0.66318,"h":0.66320,"l":0.66306,"c":0.66310},
{"i":440,"o":0.66310,"h":0.66314,"l":0.66303,"c":0.66305},
{"i":441,"o":0.66305,"h":0.66307,"l":0.66295,"c":0.66298},
{"i":442,"o":0.66298,"h":0.66303,"l":0.66288,"c":0.66290},
{"i":443,"o":0.66290,"h":0.66292,"l":0.66275,"c":0.66280},
{"i":444,"o":0.66280,"h":0.66283,"l":0.66268,"c":0.66270},
{"i":445,"o":0.66270,"h":0.66272,"l":0.66258,"c":0.66262},
{"i":446,"o":0.66262,"h":0.66266,"l":0.66248,"c":0.66250},
{"i":447,"o":0.66250,"h":0.66262,"l":0.66115,"c":0.66240},
{"i":448,"o":0.66240,"h":0.66245,"l":0.66230,"c":0.66232},
{"i":449,"o":0.66232,"h":0.66234,"l":0.66220,"c":0.66225},
{"i":450,"o":0.66225,"h":0.66228,"l":0.66216,"c":0.66218},
{"i":451,"o":0.66218,"h":0.66220,"l":0.66206,"c":0.66210},
{"i":452,"o":0.66210,"h":0.66214,"l":0.66203,"c":0.66205},
{"i":453,"o":0.66205,"h":0.66207,"l":0.66192,"c":0.66195},
{"i":454,"o":0.66195,"h":0.66200,"l":0.66184,"c":0.66186},
{"i":455,"o":0.66186,"h":0.66188,"l":0.66173,"c":0.66178},
{"i":456,"o":0.66178,"h":0.66191,"l":0.66176,"c":0.66188},
{"i":457,"o":0.66188,"h":0.66197,"l":0.66184,"c":0.66195},
{"i":458,"o":0.66195,"h":0.66204,"l":0.66193,"c":0.66200},
{"i":459,"o":0.66200,"h":0.66202,"l":0.66193,"c":0.66196},
{"i":460,"o":0.66196,"h":0.66201,"l":0.66186,"c":0.66188},
{"i":461,"o":0.66188,"h":0.66190,"l":0.66177,"c":0.66182},
{"i":462,"o":0.66182,"h":0.66185,"l":0.66173,"c":0.66175},
{"i":463,"o":0.66175,"h":0.66177,"l":0.66168,"c":0.66172},
{"i":464,"o":0.66172,"h":0.66176,"l":0.66167,"c":0.66169},
{"i":465,"o":0.66169,"h":0.66171,"l":0.66157,"c":0.66160},
{"i":466,"o":0.66160,"h":0.66167,"l":0.66158,"c":0.66162},
{"i":467,"o":0.66162,"h":0.66164,"l":0.66147,"c":0.66152},
{"i":468,"o":0.66152,"h":0.66155,"l":0.66146,"c":0.66148},
{"i":469,"o":0.66148,"h":0.66150,"l":0.66138,"c":0.66142},
{"i":470,"o":0.66142,"h":0.66146,"l":0.66133,"c":0.66135},
{"i":471,"o":0.66135,"h":0.66137,"l":0.66127,"c":0.66130},
{"i":472,"o":0.66130,"h":0.66135,"l":0.66124,"c":0.66126},
{"i":473,"o":0.66126,"h":0.66128,"l":0.66116,"c":0.66121},
{"i":474,"o":0.66121,"h":0.66124,"l":0.66103,"c":0.66105},
{"i":475,"o":0.66105,"h":0.66107,"l":0.66086,"c":0.66090},
{"i":476,"o":0.66090,"h":0.66094,"l":0.66068,"c":0.66070},
{"i":477,"o":0.66070,"h":0.66072,"l":0.66057,"c":0.66060},
{"i":478,"o":0.66060,"h":0.66065,"l":0.66048,"c":0.66050},
{"i":479,"o":0.66050,"h":0.66052,"l":0.66038,"c":0.66043},
{"i":480,"o":0.66043,"h":0.66063,"l":0.66041,"c":0.66060},
{"i":481,"o":0.66060,"h":0.66077,"l":0.66056,"c":0.66075},
{"i":482,"o":0.66075,"h":0.66092,"l":0.66073,"c":0.66088},
{"i":483,"o":0.66088,"h":0.66102,"l":0.66085,"c":0.66100},
{"i":484,"o":0.66100,"h":0.66120,"l":0.66098,"c":0.66115},
{"i":485,"o":0.66115,"h":0.66127,"l":0.66110,"c":0.66125},
{"i":486,"o":0.66125,"h":0.66145,"l":0.66123,"c":0.66133},
{"i":487,"o":0.66133,"h":0.66135,"l":0.66106,"c":0.66110},
{"i":488,"o":0.66110,"h":0.66114,"l":0.66086,"c":0.66088},
{"i":489,"o":0.66088,"h":0.66090,"l":0.66067,"c":0.66070},
{"i":490,"o":0.66070,"h":0.66075,"l":0.66060,"c":0.66062},
{"i":491,"o":0.66062,"h":0.66064,"l":0.66053,"c":0.66058},
{"i":492,"o":0.66058,"h":0.66061,"l":0.66050,"c":0.66052},
{"i":493,"o":0.66052,"h":0.66072,"l":0.66048,"c":0.66070},
{"i":494,"o":0.66070,"h":0.66089,"l":0.66068,"c":0.66085},
{"i":495,"o":0.66085,"h":0.66100,"l":0.66082,"c":0.66098},
{"i":496,"o":0.66098,"h":0.66111,"l":0.66096,"c":0.66106},
{"i":497,"o":0.66106,"h":0.66108,"l":0.66090,"c":0.66095},
{"i":498,"o":0.66095,"h":0.66098,"l":0.66083,"c":0.66085},
{"i":499,"o":0.66085,"h":0.66092,"l":0.66081,"c":0.66090},
{"i":500,"o":0.66090,"h":0.66094,"l":0.66076,"c":0.66078},
{"i":501,"o":0.66078,"h":0.66080,"l":0.66067,"c":0.66070},
{"i":502,"o":0.66070,"h":0.66090,"l":0.66068,"c":0.66085},
{"i":503,"o":0.66085,"h":0.66102,"l":0.66080,"c":0.66100},
{"i":504,"o":0.66100,"h":0.66121,"l":0.66098,"c":0.66118},
{"i":505,"o":0.66118,"h":0.66132,"l":0.66114,"c":0.66130},
{"i":506,"o":0.66130,"h":0.66146,"l":0.66128,"c":0.66142},
{"i":507,"o":0.66142,"h":0.66144,"l":0.66122,"c":0.66125},
{"i":508,"o":0.66125,"h":0.66130,"l":0.66108,"c":0.66110},
{"i":509,"o":0.66110,"h":0.66112,"l":0.66099,"c":0.66104},
{"i":510,"o":0.66104,"h":0.66107,"l":0.66095,"c":0.66097},
{"i":511,"o":0.66097,"h":0.66112,"l":0.66093,"c":0.66110},
{"i":512,"o":0.66110,"h":0.66126,"l":0.66108,"c":0.66122},
{"i":513,"o":0.66122,"h":0.66137,"l":0.66119,"c":0.66135},
{"i":514,"o":0.66135,"h":0.66147,"l":0.66133,"c":0.66142},
{"i":515,"o":0.66142,"h":0.66150,"l":0.66137,"c":0.66148},
{"i":516,"o":0.66148,"h":0.66151,"l":0.66138,"c":0.66140},
{"i":517,"o":0.66140,"h":0.66154,"l":0.66136,"c":0.66152},
{"i":518,"o":0.66152,"h":0.66175,"l":0.66150,"c":0.66160},
{"i":519,"o":0.66160,"h":0.66162,"l":0.66132,"c":0.66135},
{"i":520,"o":0.66135,"h":0.66140,"l":0.66108,"c":0.66110},
{"i":521,"o":0.66110,"h":0.66112,"l":0.66085,"c":0.66090},
{"i":522,"o":0.66090,"h":0.66093,"l":0.66068,"c":0.66070},
{"i":523,"o":0.66070,"h":0.66084,"l":0.66066,"c":0.66082},
{"i":524,"o":0.66082,"h":0.66094,"l":0.66080,"c":0.66090},
{"i":525,"o":0.66090,"h":0.66092,"l":0.66075,"c":0.66078},
{"i":526,"o":0.66078,"h":0.66090,"l":0.66076,"c":0.66085},
{"i":527,"o":0.66085,"h":0.66087,"l":0.66065,"c":0.66070},
{"i":528,"o":0.66070,"h":0.66073,"l":0.66058,"c":0.66060},
{"i":529,"o":0.66060,"h":0.66062,"l":0.66044,"c":0.66048},
{"i":530,"o":0.66048,"h":0.66052,"l":0.66038,"c":0.66040},
{"i":531,"o":0.66040,"h":0.66042,"l":0.66031,"c":0.66034},
{"i":532,"o":0.66034,"h":0.66050,"l":0.66032,"c":0.66045},
{"i":533,"o":0.66045,"h":0.66047,"l":0.66033,"c":0.66038},
{"i":534,"o":0.66038,"h":0.66053,"l":0.66036,"c":0.66050},
{"i":535,"o":0.66050,"h":0.66052,"l":0.66036,"c":0.66040},
{"i":536,"o":0.66040,"h":0.66044,"l":0.66028,"c":0.66030},
{"i":537,"o":0.66030,"h":0.66032,"l":0.66017,"c":0.66020},
{"i":538,"o":0.66020,"h":0.66030,"l":0.66018,"c":0.66025},
{"i":539,"o":0.66025,"h":0.66027,"l":0.66007,"c":0.66012},
{"i":540,"o":0.66012,"h":0.66015,"l":0.66003,"c":0.66005},
{"i":541,"o":0.66005,"h":0.66007,"l":0.65994,"c":0.65998},
{"i":542,"o":0.65998,"h":0.66002,"l":0.65988,"c":0.65990},
{"i":543,"o":0.65990,"h":0.65992,"l":0.65979,"c":0.65982},
{"i":544,"o":0.65982,"h":0.65990,"l":0.65980,"c":0.65985},
{"i":545,"o":0.65985,"h":0.65987,"l":0.65970,"c":0.65975},
{"i":546,"o":0.65975,"h":0.65978,"l":0.65960,"c":0.65971},
{"i":547,"o":0.65971,"h":0.65997,"l":0.65967,"c":0.65995},
{"i":548,"o":0.65995,"h":0.66022,"l":0.65993,"c":0.66018},
{"i":549,"o":0.66018,"h":0.66042,"l":0.66015,"c":0.66040},
{"i":550,"o":0.66040,"h":0.66057,"l":0.66038,"c":0.66052},
{"i":551,"o":0.66052,"h":0.66062,"l":0.66047,"c":0.66060},
{"i":552,"o":0.66060,"h":0.66068,"l":0.66058,"c":0.66065},
{"i":553,"o":0.66065,"h":0.66072,"l":0.66061,"c":0.66070},
{"i":554,"o":0.66070,"h":0.66074,"l":0.66056,"c":0.66058},
{"i":555,"o":0.66058,"h":0.66060,"l":0.66042,"c":0.66045},
{"i":556,"o":0.66045,"h":0.66050,"l":0.66032,"c":0.66034},
{"i":557,"o":0.66034,"h":0.66036,"l":0.66015,"c":0.66020},
{"i":558,"o":0.66020,"h":0.66023,"l":0.66008,"c":0.66010},
{"i":559,"o":0.66010,"h":0.66012,"l":0.65994,"c":0.65998},
{"i":560,"o":0.65998,"h":0.66002,"l":0.65986,"c":0.65988},
{"i":561,"o":0.65988,"h":0.65990,"l":0.65968,"c":0.65980},
{"i":562,"o":0.65980,"h":0.66000,"l":0.65978,"c":0.65995},
{"i":563,"o":0.65995,"h":0.66012,"l":0.65990,"c":0.66010},
{"i":564,"o":0.66010,"h":0.66028,"l":0.66008,"c":0.66025},
{"i":565,"o":0.66025,"h":0.66036,"l":0.66021,"c":0.66034},
{"i":566,"o":0.66034,"h":0.66064,"l":0.66032,"c":0.66060},
{"i":567,"o":0.66060,"h":0.66087,"l":0.66057,"c":0.66085},
{"i":568,"o":0.66085,"h":0.66115,"l":0.66083,"c":0.66110},
{"i":569,"o":0.66110,"h":0.66150,"l":0.66105,"c":0.66133},
{"i":570,"o":0.66133,"h":0.66136,"l":0.66108,"c":0.66110},
{"i":571,"o":0.66110,"h":0.66112,"l":0.66086,"c":0.66090},
{"i":572,"o":0.66090,"h":0.66094,"l":0.66068,"c":0.66070},
{"i":573,"o":0.66070,"h":0.66072,"l":0.66047,"c":0.66050},
{"i":574,"o":0.66050,"h":0.66055,"l":0.66032,"c":0.66034},
{"i":575,"o":0.66034,"h":0.66036,"l":0.66015,"c":0.66020},
{"i":576,"o":0.66020,"h":0.66023,"l":0.66006,"c":0.66008},
{"i":577,"o":0.66008,"h":0.66010,"l":0.65985,"c":0.65998},
{"i":578,"o":0.65998,"h":0.66029,"l":0.65996,"c":0.66025},
{"i":579,"o":0.66025,"h":0.66050,"l":0.66022,"c":0.66048},
{"i":580,"o":0.66048,"h":0.66075,"l":0.66046,"c":0.66070},
{"i":581,"o":0.66070,"h":0.66072,"l":0.66057,"c":0.66062},
{"i":582,"o":0.66062,"h":0.66065,"l":0.66056,"c":0.66058},
{"i":583,"o":0.66058,"h":0.66068,"l":0.66054,"c":0.66066},
{"i":584,"o":0.66066,"h":0.66070,"l":0.66053,"c":0.66055},
{"i":585,"o":0.66055,"h":0.66057,"l":0.66049,"c":0.66052},
{"i":586,"o":0.66052,"h":0.66065,"l":0.66050,"c":0.66060},
{"i":587,"o":0.66060,"h":0.66070,"l":0.66055,"c":0.66068},
{"i":588,"o":0.66068,"h":0.66071,"l":0.66056,"c":0.66058},
{"i":589,"o":0.66058,"h":0.66067,"l":0.66054,"c":0.66065},
{"i":590,"o":0.66065,"h":0.66074,"l":0.66063,"c":0.66070},
{"i":591,"o":0.66070,"h":0.66097,"l":0.66067,"c":0.66095},
{"i":592,"o":0.66095,"h":0.66125,"l":0.66093,"c":0.66120},
{"i":593,"o":0.66120,"h":0.66142,"l":0.66115,"c":0.66140},
{"i":594,"o":0.66140,"h":0.66180,"l":0.66138,"c":0.66160},
{"i":595,"o":0.66160,"h":0.66162,"l":0.66136,"c":0.66140},
{"i":596,"o":0.66140,"h":0.66144,"l":0.66123,"c":0.66125},
{"i":597,"o":0.66125,"h":0.66127,"l":0.66107,"c":0.66110},
{"i":598,"o":0.66110,"h":0.66115,"l":0.66095,"c":0.66097},
{"i":599,"o":0.66097,"h":0.66099,"l":0.66075,"c":0.66080},
{"i":600,"o":0.66080,"h":0.66083,"l":0.66063,"c":0.66065},
{"i":601,"o":0.66065,"h":0.66067,"l":0.66051,"c":0.66055},
{"i":602,"o":0.66055,"h":0.66059,"l":0.66041,"c":0.66043},
{"i":603,"o":0.66043,"h":0.66057,"l":0.66040,"c":0.66055},
{"i":604,"o":0.66055,"h":0.66067,"l":0.66053,"c":0.66062},
{"i":605,"o":0.66062,"h":0.66064,"l":0.66053,"c":0.66058},
{"i":606,"o":0.66058,"h":0.66073,"l":0.66056,"c":0.66070},
{"i":607,"o":0.66070,"h":0.66092,"l":0.66066,"c":0.66090},
{"i":608,"o":0.66090,"h":0.66114,"l":0.66088,"c":0.66110},
{"i":609,"o":0.66110,"h":0.66130,"l":0.66107,"c":0.66128},
{"i":610,"o":0.66128,"h":0.66155,"l":0.66126,"c":0.66142},
{"i":611,"o":0.66142,"h":0.66144,"l":0.66125,"c":0.66130},
{"i":612,"o":0.66130,"h":0.66133,"l":0.66118,"c":0.66120},
{"i":613,"o":0.66120,"h":0.66122,"l":0.66108,"c":0.66112},
{"i":614,"o":0.66112,"h":0.66116,"l":0.66104,"c":0.66106},
{"i":615,"o":0.66106,"h":0.66120,"l":0.66103,"c":0.66118},
{"i":616,"o":0.66118,"h":0.66135,"l":0.66116,"c":0.66130},
{"i":617,"o":0.66130,"h":0.66144,"l":0.66125,"c":0.66142},
{"i":618,"o":0.66142,"h":0.66165,"l":0.66140,"c":0.66151},
{"i":619,"o":0.66151,"h":0.66153,"l":0.66134,"c":0.66138},
{"i":620,"o":0.66138,"h":0.66152,"l":0.66136,"c":0.66148},
{"i":621,"o":0.66148,"h":0.66150,"l":0.66132,"c":0.66135},
{"i":622,"o":0.66135,"h":0.66147,"l":0.66133,"c":0.66142},
{"i":623,"o":0.66142,"h":0.66144,"l":0.66115,"c":0.66120},
{"i":624,"o":0.66120,"h":0.66123,"l":0.66098,"c":0.66100},
{"i":625,"o":0.66100,"h":0.66102,"l":0.66081,"c":0.66085},
{"i":626,"o":0.66085,"h":0.66089,"l":0.66068,"c":0.66070},
{"i":627,"o":0.66070,"h":0.66080,"l":0.66067,"c":0.66078},
{"i":628,"o":0.66078,"h":0.66090,"l":0.66076,"c":0.66085},
{"i":629,"o":0.66085,"h":0.66087,"l":0.66067,"c":0.66072},
{"i":630,"o":0.66072,"h":0.66083,"l":0.66070,"c":0.66080},
{"i":631,"o":0.66080,"h":0.66082,"l":0.66066,"c":0.66070},
{"i":632,"o":0.66070,"h":0.66079,"l":0.66068,"c":0.66075},
{"i":633,"o":0.66075,"h":0.66084,"l":0.66072,"c":0.66082},
{"i":634,"o":0.66082,"h":0.66087,"l":0.66076,"c":0.66078},
{"i":635,"o":0.66078,"h":0.66090,"l":0.66073,"c":0.66088},
{"i":636,"o":0.66088,"h":0.66091,"l":0.66078,"c":0.66080},
{"i":637,"o":0.66080,"h":0.66082,"l":0.66066,"c":0.66070},
{"i":638,"o":0.66070,"h":0.66074,"l":0.66058,"c":0.66060},
{"i":639,"o":0.66060,"h":0.66062,"l":0.66049,"c":0.66052},
{"i":640,"o":0.66052,"h":0.66057,"l":0.66038,"c":0.66040},
{"i":641,"o":0.66040,"h":0.66042,"l":0.66025,"c":0.66030},
{"i":642,"o":0.66030,"h":0.66033,"l":0.66014,"c":0.66016},
{"i":643,"o":0.66016,"h":0.66018,"l":0.66001,"c":0.66005},
{"i":644,"o":0.66005,"h":0.66009,"l":0.65998,"c":0.66000},
{"i":645,"o":0.66000,"h":0.66002,"l":0.65989,"c":0.65992},
{"i":646,"o":0.65992,"h":0.65997,"l":0.65983,"c":0.65985},
{"i":647,"o":0.65985,"h":0.65987,"l":0.65975,"c":0.65980},
{"i":648,"o":0.65980,"h":0.65983,"l":0.65966,"c":0.65968},
{"i":649,"o":0.65968,"h":0.65970,"l":0.65954,"c":0.65958},
{"i":650,"o":0.65958,"h":0.65962,"l":0.65948,"c":0.65950},
{"i":651,"o":0.65950,"h":0.65952,"l":0.65937,"c":0.65940},
{"i":652,"o":0.65940,"h":0.65945,"l":0.65930,"c":0.65932},
{"i":653,"o":0.65932,"h":0.65934,"l":0.65918,"c":0.65925},
{"i":654,"o":0.65925,"h":0.65932,"l":0.65923,"c":0.65929},
{"i":655,"o":0.65929,"h":0.65937,"l":0.65925,"c":0.65935},
{"i":656,"o":0.65935,"h":0.65949,"l":0.65933,"c":0.65945},
{"i":657,"o":0.65945,"h":0.65947,"l":0.65937,"c":0.65940},
{"i":658,"o":0.65940,"h":0.65960,"l":0.65938,"c":0.65955},
{"i":659,"o":0.65955,"h":0.65964,"l":0.65950,"c":0.65962},
{"i":660,"o":0.65962,"h":0.65973,"l":0.65960,"c":0.65970},
{"i":661,"o":0.65970,"h":0.65977,"l":0.65966,"c":0.65975},
{"i":662,"o":0.65975,"h":0.65989,"l":0.65973,"c":0.65985},
{"i":663,"o":0.65985,"h":0.65987,"l":0.65977,"c":0.65980},
{"i":664,"o":0.65980,"h":0.65985,"l":0.65966,"c":0.65968},
{"i":665,"o":0.65968,"h":0.65970,"l":0.65950,"c":0.65955},
{"i":666,"o":0.65955,"h":0.65958,"l":0.65946,"c":0.65948},
{"i":667,"o":0.65948,"h":0.65950,"l":0.65928,"c":0.65940},
{"i":668,"o":0.65940,"h":0.65954,"l":0.65938,"c":0.65950},
{"i":669,"o":0.65950,"h":0.65964,"l":0.65947,"c":0.65962},
{"i":670,"o":0.65962,"h":0.65980,"l":0.65960,"c":0.65975},
{"i":671,"o":0.65975,"h":0.65984,"l":0.65970,"c":0.65982},
{"i":672,"o":0.65982,"h":0.65992,"l":0.65980,"c":0.65989},
{"i":673,"o":0.65989,"h":0.65997,"l":0.65985,"c":0.65995},
{"i":674,"o":0.65995,"h":0.66006,"l":0.65993,"c":0.66002},
{"i":675,"o":0.66002,"h":0.66009,"l":0.65999,"c":0.66007},
{"i":676,"o":0.66007,"h":0.66017,"l":0.66005,"c":0.66012},
{"i":677,"o":0.66012,"h":0.66014,"l":0.66003,"c":0.66008},
{"i":678,"o":0.66008,"h":0.66018,"l":0.66006,"c":0.66015},
{"i":679,"o":0.66015,"h":0.66024,"l":0.66011,"c":0.66022},
{"i":680,"o":0.66022,"h":0.66026,"l":0.66018,"c":0.66020},
{"i":681,"o":0.66020,"h":0.66030,"l":0.66017,"c":0.66028},
{"i":682,"o":0.66028,"h":0.66040,"l":0.66026,"c":0.66035},
{"i":683,"o":0.66035,"h":0.66042,"l":0.66030,"c":0.66040},
{"i":684,"o":0.66040,"h":0.66046,"l":0.66038,"c":0.66043},
{"i":685,"o":0.66043,"h":0.66052,"l":0.66039,"c":0.66050},
{"i":686,"o":0.66050,"h":0.66054,"l":0.66044,"c":0.66046},
{"i":687,"o":0.66046,"h":0.66057,"l":0.66043,"c":0.66055},
{"i":688,"o":0.66055,"h":0.66067,"l":0.66053,"c":0.66062},
{"i":689,"o":0.66062,"h":0.66064,"l":0.66053,"c":0.66058},
{"i":690,"o":0.66058,"h":0.66068,"l":0.66056,"c":0.66065},
{"i":691,"o":0.66065,"h":0.66067,"l":0.66057,"c":0.66061},
{"i":692,"o":0.66061,"h":0.66072,"l":0.66059,"c":0.66068},
{"i":693,"o":0.66068,"h":0.66074,"l":0.66065,"c":0.66072},
{"i":694,"o":0.66072,"h":0.66077,"l":0.66064,"c":0.66066},
{"i":695,"o":0.66066,"h":0.66080,"l":0.66061,"c":0.66078},
{"i":696,"o":0.66078,"h":0.66088,"l":0.66076,"c":0.66085},
{"i":697,"o":0.66085,"h":0.66090,"l":0.66081,"c":0.66088},
{"i":698,"o":0.66088,"h":0.66096,"l":0.66086,"c":0.66092},
{"i":699,"o":0.66092,"h":0.66102,"l":0.66089,"c":0.66100},
{"i":700,"o":0.66100,"h":0.66112,"l":0.66092,"c":0.66094},
{"i":701,"o":0.66094,"h":0.66104,"l":0.66089,"c":0.66102},
{"i":702,"o":0.66102,"h":0.66105,"l":0.66093,"c":0.66095},
{"i":703,"o":0.66095,"h":0.66099,"l":0.66091,"c":0.66097},
{"i":704,"o":0.66097,"h":0.66101,"l":0.66088,"c":0.66090},
{"i":705,"o":0.66090,"h":0.66092,"l":0.66082,"c":0.66085},
{"i":706,"o":0.66085,"h":0.66090,"l":0.66076,"c":0.66078},
{"i":707,"o":0.66078,"h":0.66080,"l":0.66065,"c":0.66070},
{"i":708,"o":0.66070,"h":0.66073,"l":0.66064,"c":0.66066},
{"i":709,"o":0.66066,"h":0.66068,"l":0.66057,"c":0.66061},
{"i":710,"o":0.66061,"h":0.66065,"l":0.66056,"c":0.66058},
{"i":711,"o":0.66058,"h":0.66067,"l":0.66055,"c":0.66065},
{"i":712,"o":0.66065,"h":0.66070,"l":0.66054,"c":0.66056},
{"i":713,"o":0.66056,"h":0.66064,"l":0.66051,"c":0.66062},
{"i":714,"o":0.66062,"h":0.66065,"l":0.66048,"c":0.66050},
{"i":715,"o":0.66050,"h":0.66054,"l":0.66046,"c":0.66052},
{"i":716,"o":0.66052,"h":0.66056,"l":0.66043,"c":0.66045},
{"i":717,"o":0.66045,"h":0.66047,"l":0.66037,"c":0.66040},
{"i":718,"o":0.66040,"h":0.66045,"l":0.66033,"c":0.66035},
{"i":719,"o":0.66035,"h":0.66040,"l":0.66030,"c":0.66038},
{"i":720,"o":0.66038,"h":0.66041,"l":0.66028,"c":0.66030},
{"i":721,"o":0.66030,"h":0.66032,"l":0.66021,"c":0.66025},
{"i":722,"o":0.66025,"h":0.66034,"l":0.66023,"c":0.66030},
{"i":723,"o":0.66030,"h":0.66032,"l":0.66019,"c":0.66022},
{"i":724,"o":0.66022,"h":0.66033,"l":0.66020,"c":0.66028},
{"i":725,"o":0.66028,"h":0.66038,"l":0.66023,"c":0.66036},
{"i":726,"o":0.66036,"h":0.66039,"l":0.66028,"c":0.66030},
{"i":727,"o":0.66030,"h":0.66036,"l":0.66026,"c":0.66034},
{"i":728,"o":0.66034,"h":0.66038,"l":0.66023,"c":0.66025},
{"i":729,"o":0.66025,"h":0.66027,"l":0.66017,"c":0.66020},
{"i":730,"o":0.66020,"h":0.66025,"l":0.66005,"c":0.66016},
{"i":731,"o":0.66016,"h":0.66037,"l":0.66011,"c":0.66035},
{"i":732,"o":0.66035,"h":0.66055,"l":0.66033,"c":0.66052},
{"i":733,"o":0.66052,"h":0.66072,"l":0.66048,"c":0.66070},
{"i":734,"o":0.66070,"h":0.66082,"l":0.66068,"c":0.66078},
{"i":735,"o":0.66078,"h":0.66087,"l":0.66075,"c":0.66085},
{"i":736,"o":0.66085,"h":0.66090,"l":0.66078,"c":0.66080},
{"i":737,"o":0.66080,"h":0.66094,"l":0.66075,"c":0.66092},
{"i":738,"o":0.66092,"h":0.66101,"l":0.66090,"c":0.66098},
{"i":739,"o":0.66098,"h":0.66104,"l":0.66094,"c":0.66102},
{"i":740,"o":0.66102,"h":0.66118,"l":0.66100,"c":0.66106},
{"i":741,"o":0.66106,"h":0.66108,"l":0.66097,"c":0.66100},
{"i":742,"o":0.66100,"h":0.66105,"l":0.66093,"c":0.66095},
{"i":743,"o":0.66095,"h":0.66100,"l":0.66090,"c":0.66098},
{"i":744,"o":0.66098,"h":0.66101,"l":0.66088,"c":0.66090},
{"i":745,"o":0.66090,"h":0.66096,"l":0.66086,"c":0.66094},
{"i":746,"o":0.66094,"h":0.66098,"l":0.66086,"c":0.66088},
{"i":747,"o":0.66088,"h":0.66090,"l":0.66077,"c":0.66080},
{"i":748,"o":0.66080,"h":0.66085,"l":0.66073,"c":0.66075},
{"i":749,"o":0.66075,"h":0.66077,"l":0.66065,"c":0.66070},
{"i":750,"o":0.66070,"h":0.66073,"l":0.66066,"c":0.66068},
{"i":751,"o":0.66068,"h":0.66070,"l":0.66061,"c":0.66065},
{"i":752,"o":0.66065,"h":0.66069,"l":0.66059,"c":0.66061},
{"i":753,"o":0.66061,"h":0.66068,"l":0.66058,"c":0.66066},
{"i":754,"o":0.66066,"h":0.66077,"l":0.66064,"c":0.66072},
{"i":755,"o":0.66072,"h":0.66074,"l":0.66063,"c":0.66068},
{"i":756,"o":0.66068,"h":0.66078,"l":0.66066,"c":0.66075},
{"i":757,"o":0.66075,"h":0.66084,"l":0.66071,"c":0.66082},
{"i":758,"o":0.66082,"h":0.66086,"l":0.66077,"c":0.66079},
{"i":759,"o":0.66079,"h":0.66086,"l":0.66076,"c":0.66084},
{"i":760,"o":0.66084,"h":0.66089,"l":0.66078,"c":0.66080},
{"i":761,"o":0.66080,"h":0.66090,"l":0.66075,"c":0.66088},
{"i":762,"o":0.66088,"h":0.66095,"l":0.66086,"c":0.66092},
{"i":763,"o":0.66092,"h":0.66094,"l":0.66081,"c":0.66085},
{"i":764,"o":0.66085,"h":0.66092,"l":0.66083,"c":0.66088},
{"i":765,"o":0.66088,"h":0.66097,"l":0.66085,"c":0.66095},
{"i":766,"o":0.66095,"h":0.66105,"l":0.66093,"c":0.66100},
{"i":767,"o":0.66100,"h":0.66102,"l":0.66093,"c":0.66098},
{"i":768,"o":0.66098,"h":0.66111,"l":0.66096,"c":0.66108},
{"i":769,"o":0.66108,"h":0.66117,"l":0.66104,"c":0.66115},
{"i":770,"o":0.66115,"h":0.66139,"l":0.66113,"c":0.66135},
{"i":771,"o":0.66135,"h":0.66157,"l":0.66132,"c":0.66155},
{"i":772,"o":0.66155,"h":0.66180,"l":0.66153,"c":0.66175},
{"i":773,"o":0.66175,"h":0.66198,"l":0.66170,"c":0.66196},
{"i":774,"o":0.66196,"h":0.66223,"l":0.66194,"c":0.66220},
{"i":775,"o":0.66220,"h":0.66247,"l":0.66216,"c":0.66245},
{"i":776,"o":0.66245,"h":0.66272,"l":0.66243,"c":0.66268},
{"i":777,"o":0.66268,"h":0.66292,"l":0.66265,"c":0.66290},
{"i":778,"o":0.66290,"h":0.66317,"l":0.66288,"c":0.66312},
{"i":779,"o":0.66312,"h":0.66347,"l":0.66307,"c":0.66332},
{"i":780,"o":0.66332,"h":0.66335,"l":0.66313,"c":0.66315},
{"i":781,"o":0.66315,"h":0.66317,"l":0.66296,"c":0.66300},
{"i":782,"o":0.66300,"h":0.66308,"l":0.66298,"c":0.66304},
{"i":783,"o":0.66304,"h":0.66314,"l":0.66301,"c":0.66312},
{"i":784,"o":0.66312,"h":0.66325,"l":0.66310,"c":0.66320},
{"i":785,"o":0.66320,"h":0.66322,"l":0.66303,"c":0.66308},
{"i":786,"o":0.66308,"h":0.66321,"l":0.66306,"c":0.66318},
{"i":787,"o":0.66318,"h":0.66335,"l":0.66314,"c":0.66322},
{"i":788,"o":0.66322,"h":0.66326,"l":0.66308,"c":0.66310},
{"i":789,"o":0.66310,"h":0.66312,"l":0.66295,"c":0.66298},
{"i":790,"o":0.66298,"h":0.66303,"l":0.66288,"c":0.66290},
{"i":791,"o":0.66290,"h":0.66292,"l":0.66280,"c":0.66285},
{"i":792,"o":0.66285,"h":0.66288,"l":0.66275,"c":0.66277},
{"i":793,"o":0.66277,"h":0.66279,"l":0.66261,"c":0.66265},
{"i":794,"o":0.66265,"h":0.66269,"l":0.66256,"c":0.66258},
{"i":795,"o":0.66258,"h":0.66260,"l":0.66247,"c":0.66250},
{"i":796,"o":0.66250,"h":0.66255,"l":0.66239,"c":0.66241},
{"i":797,"o":0.66241,"h":0.66243,"l":0.66230,"c":0.66235},
{"i":798,"o":0.66235,"h":0.66238,"l":0.66223,"c":0.66225},
{"i":799,"o":0.66225,"h":0.66227,"l":0.66211,"c":0.66215},
{"i":800,"o":0.66215,"h":0.66219,"l":0.66203,"c":0.66205},
{"i":801,"o":0.66205,"h":0.66207,"l":0.66193,"c":0.66196},
{"i":802,"o":0.66196,"h":0.66210,"l":0.66194,"c":0.66205},
{"i":803,"o":0.66205,"h":0.66214,"l":0.66200,"c":0.66212},
{"i":804,"o":0.66212,"h":0.66215,"l":0.66203,"c":0.66205},
{"i":805,"o":0.66205,"h":0.66220,"l":0.66201,"c":0.66218},
{"i":806,"o":0.66218,"h":0.66222,"l":0.66212,"c":0.66214},
{"i":807,"o":0.66214,"h":0.66216,"l":0.66197,"c":0.66200},
{"i":808,"o":0.66200,"h":0.66205,"l":0.66190,"c":0.66192},
{"i":809,"o":0.66192,"h":0.66194,"l":0.66180,"c":0.66185},
{"i":810,"o":0.66185,"h":0.66188,"l":0.66176,"c":0.66178},
{"i":811,"o":0.66178,"h":0.66187,"l":0.66174,"c":0.66185},
{"i":812,"o":0.66185,"h":0.66196,"l":0.66183,"c":0.66192},
{"i":813,"o":0.66192,"h":0.66194,"l":0.66177,"c":0.66180},
{"i":814,"o":0.66180,"h":0.66193,"l":0.66178,"c":0.66188},
{"i":815,"o":0.66188,"h":0.66190,"l":0.66177,"c":0.66182},
{"i":816,"o":0.66182,"h":0.66190,"l":0.66180,"c":0.66187},
{"i":817,"o":0.66187,"h":0.66189,"l":0.66174,"c":0.66178},
{"i":818,"o":0.66178,"h":0.66182,"l":0.66168,"c":0.66170},
{"i":819,"o":0.66170,"h":0.66172,"l":0.66159,"c":0.66162},
{"i":820,"o":0.66162,"h":0.66167,"l":0.66153,"c":0.66155},
{"i":821,"o":0.66155,"h":0.66157,"l":0.66143,"c":0.66148},
{"i":822,"o":0.66148,"h":0.66151,"l":0.66140,"c":0.66142},
{"i":823,"o":0.66142,"h":0.66144,"l":0.66134,"c":0.66138},
{"i":824,"o":0.66138,"h":0.66142,"l":0.66128,"c":0.66130},
{"i":825,"o":0.66130,"h":0.66132,"l":0.66123,"c":0.66126},
{"i":826,"o":0.66126,"h":0.66131,"l":0.66118,"c":0.66120},
{"i":827,"o":0.66120,"h":0.66122,"l":0.66113,"c":0.66118},
{"i":828,"o":0.66118,"h":0.66121,"l":0.66113,"c":0.66115},
{"i":829,"o":0.66115,"h":0.66117,"l":0.66106,"c":0.66110},
{"i":830,"o":0.66110,"h":0.66114,"l":0.66103,"c":0.66105},
{"i":831,"o":0.66105,"h":0.66107,"l":0.66097,"c":0.66100},
{"i":832,"o":0.66100,"h":0.66109,"l":0.66098,"c":0.66104},
{"i":833,"o":0.66104,"h":0.66106,"l":0.66085,"c":0.66097},
{"i":834,"o":0.66097,"h":0.66108,"l":0.66095,"c":0.66105},
{"i":835,"o":0.66105,"h":0.66114,"l":0.66101,"c":0.66112},
{"i":836,"o":0.66112,"h":0.66122,"l":0.66110,"c":0.66118},
{"i":837,"o":0.66118,"h":0.66126,"l":0.66115,"c":0.66124},
{"i":838,"o":0.66124,"h":0.66140,"l":0.66122,"c":0.66135},
{"i":839,"o":0.66135,"h":0.66150,"l":0.66130,"c":0.66148},
{"i":840,"o":0.66148,"h":0.66161,"l":0.66146,"c":0.66158},
{"i":841,"o":0.66158,"h":0.66172,"l":0.66154,"c":0.66170},
{"i":842,"o":0.66170,"h":0.66182,"l":0.66168,"c":0.66178},
{"i":843,"o":0.66178,"h":0.66190,"l":0.66175,"c":0.66188},
{"i":844,"o":0.66188,"h":0.66201,"l":0.66186,"c":0.66196},
{"i":845,"o":0.66196,"h":0.66204,"l":0.66191,"c":0.66202},
{"i":846,"o":0.66202,"h":0.66213,"l":0.66200,"c":0.66210},
{"i":847,"o":0.66210,"h":0.66216,"l":0.66206,"c":0.66214},
{"i":848,"o":0.66214,"h":0.66218,"l":0.66204,"c":0.66206},
{"i":849,"o":0.66206,"h":0.66208,"l":0.66197,"c":0.66200},
{"i":850,"o":0.66200,"h":0.66205,"l":0.66190,"c":0.66192},
{"i":851,"o":0.66192,"h":0.66198,"l":0.66187,"c":0.66196},
{"i":852,"o":0.66196,"h":0.66205,"l":0.66194,"c":0.66202},
{"i":853,"o":0.66202,"h":0.66212,"l":0.66198,"c":0.66210},
{"i":854,"o":0.66210,"h":0.66214,"l":0.66203,"c":0.66205},
{"i":855,"o":0.66205,"h":0.66220,"l":0.66202,"c":0.66218},
{"i":856,"o":0.66218,"h":0.66228,"l":0.66216,"c":0.66223},
{"i":857,"o":0.66223,"h":0.66225,"l":0.66213,"c":0.66218},
{"i":858,"o":0.66218,"h":0.66228,"l":0.66216,"c":0.66225},
{"i":859,"o":0.66225,"h":0.66227,"l":0.66216,"c":0.66220},
{"i":860,"o":0.66220,"h":0.66232,"l":0.66218,"c":0.66228},
{"i":861,"o":0.66228,"h":0.66234,"l":0.66225,"c":0.66232},
{"i":862,"o":0.66232,"h":0.66300,"l":0.66218,"c":0.66220},
{"i":863,"o":0.66220,"h":0.66222,"l":0.66175,"c":0.66180},
{"i":864,"o":0.66180,"h":0.66183,"l":0.66140,"c":0.66142},
{"i":865,"o":0.66142,"h":0.66144,"l":0.66116,"c":0.66120},
{"i":866,"o":0.66120,"h":0.66124,"l":0.66098,"c":0.66100},
{"i":867,"o":0.66100,"h":0.66102,"l":0.66082,"c":0.66085},
{"i":868,"o":0.66085,"h":0.66090,"l":0.66068,"c":0.66070},
{"i":869,"o":0.66070,"h":0.66072,"l":0.66057,"c":0.66062},
{"i":870,"o":0.66062,"h":0.66065,"l":0.66053,"c":0.66055},
{"i":871,"o":0.66055,"h":0.66057,"l":0.66044,"c":0.66048},
{"i":872,"o":0.66048,"h":0.66052,"l":0.66038,"c":0.66040},
{"i":873,"o":0.66040,"h":0.66042,"l":0.66031,"c":0.66034},
{"i":874,"o":0.66034,"h":0.66039,"l":0.66008,"c":0.66010},
{"i":875,"o":0.66010,"h":0.66012,"l":0.65980,"c":0.65985},
{"i":876,"o":0.65985,"h":0.65988,"l":0.65953,"c":0.65962},
{"i":877,"o":0.65962,"h":0.66002,"l":0.65958,"c":0.66000},
{"i":878,"o":0.66000,"h":0.66039,"l":0.65998,"c":0.66035},
{"i":879,"o":0.66035,"h":0.66072,"l":0.66032,"c":0.66070},
{"i":880,"o":0.66070,"h":0.66105,"l":0.66068,"c":0.66100},
{"i":881,"o":0.66100,"h":0.66127,"l":0.66095,"c":0.66125},
{"i":882,"o":0.66125,"h":0.66153,"l":0.66123,"c":0.66150},
{"i":883,"o":0.66150,"h":0.66171,"l":0.66146,"c":0.66169},
{"i":884,"o":0.66169,"h":0.66173,"l":0.66158,"c":0.66160},
{"i":885,"o":0.66160,"h":0.66162,"l":0.66149,"c":0.66152},
{"i":886,"o":0.66152,"h":0.66163,"l":0.66150,"c":0.66158},
{"i":887,"o":0.66158,"h":0.66160,"l":0.66143,"c":0.66148},
{"i":888,"o":0.66148,"h":0.66151,"l":0.66140,"c":0.66142},
{"i":889,"o":0.66142,"h":0.66152,"l":0.66138,"c":0.66150},
{"i":890,"o":0.66150,"h":0.66154,"l":0.66140,"c":0.66142},
{"i":891,"o":0.66142,"h":0.66157,"l":0.66139,"c":0.66155},
{"i":892,"o":0.66155,"h":0.66160,"l":0.66146,"c":0.66148},
{"i":893,"o":0.66148,"h":0.66162,"l":0.66143,"c":0.66160},
{"i":894,"o":0.66160,"h":0.66178,"l":0.66158,"c":0.66175},
{"i":895,"o":0.66175,"h":0.66194,"l":0.66171,"c":0.66192},
{"i":896,"o":0.66192,"h":0.66214,"l":0.66190,"c":0.66210},
{"i":897,"o":0.66210,"h":0.66235,"l":0.66207,"c":0.66223},
{"i":898,"o":0.66223,"h":0.66228,"l":0.66208,"c":0.66210},
{"i":899,"o":0.66210,"h":0.66212,"l":0.66190,"c":0.66195},
{"i":900,"o":0.66195,"h":0.66198,"l":0.66178,"c":0.66180},
{"i":901,"o":0.66180,"h":0.66182,"l":0.66166,"c":0.66170},
{"i":902,"o":0.66170,"h":0.66174,"l":0.66158,"c":0.66160},
{"i":903,"o":0.66160,"h":0.66162,"l":0.66149,"c":0.66152},
{"i":904,"o":0.66152,"h":0.66157,"l":0.66143,"c":0.66145},
{"i":905,"o":0.66145,"h":0.66147,"l":0.66133,"c":0.66138},
{"i":906,"o":0.66138,"h":0.66141,"l":0.66131,"c":0.66133},
{"i":907,"o":0.66133,"h":0.66142,"l":0.66129,"c":0.66140},
{"i":908,"o":0.66140,"h":0.66144,"l":0.66133,"c":0.66135},
{"i":909,"o":0.66135,"h":0.66147,"l":0.66132,"c":0.66145},
{"i":910,"o":0.66145,"h":0.66150,"l":0.66136,"c":0.66138},
{"i":911,"o":0.66138,"h":0.66144,"l":0.66133,"c":0.66142},
{"i":912,"o":0.66142,"h":0.66153,"l":0.66140,"c":0.66150},
{"i":913,"o":0.66150,"h":0.66160,"l":0.66146,"c":0.66158},
{"i":914,"o":0.66158,"h":0.66169,"l":0.66156,"c":0.66165},
{"i":915,"o":0.66165,"h":0.66174,"l":0.66162,"c":0.66172},
{"i":916,"o":0.66172,"h":0.66183,"l":0.66170,"c":0.66178},
{"i":917,"o":0.66178,"h":0.66192,"l":0.66173,"c":0.66190},
{"i":918,"o":0.66190,"h":0.66208,"l":0.66188,"c":0.66205},
{"i":919,"o":0.66205,"h":0.66222,"l":0.66201,"c":0.66220},
{"i":920,"o":0.66220,"h":0.66236,"l":0.66218,"c":0.66232},
{"i":921,"o":0.66232,"h":0.66250,"l":0.66229,"c":0.66248},
{"i":922,"o":0.66248,"h":0.66270,"l":0.66246,"c":0.66265},
{"i":923,"o":0.66265,"h":0.66282,"l":0.66260,"c":0.66280},
{"i":924,"o":0.66280,"h":0.66310,"l":0.66278,"c":0.66295},
{"i":925,"o":0.66295,"h":0.66297,"l":0.66281,"c":0.66285},
{"i":926,"o":0.66285,"h":0.66289,"l":0.66276,"c":0.66278},
{"i":927,"o":0.66278,"h":0.66280,"l":0.66269,"c":0.66272},
{"i":928,"o":0.66272,"h":0.66277,"l":0.66266,"c":0.66268},
{"i":929,"o":0.66268,"h":0.66270,"l":0.66255,"c":0.66260},
{"i":930,"o":0.66260,"h":0.66263,"l":0.66253,"c":0.66255},
{"i":931,"o":0.66255,"h":0.66264,"l":0.66251,"c":0.66262},
{"i":932,"o":0.66262,"h":0.66272,"l":0.66260,"c":0.66268},
{"i":933,"o":0.66268,"h":0.66282,"l":0.66265,"c":0.66280},
{"i":934,"o":0.66280,"h":0.66290,"l":0.66278,"c":0.66285},
{"i":935,"o":0.66285,"h":0.66304,"l":0.66246,"c":0.66250}
]
},
"layer":[
{"data":{"name":"levels"},
 "transform":[{"filter":"datum.lv !== 'bid'"}],
 "mark":{"type":"rule","strokeWidth":1},
 "encoding":{
  "y":{"field":"p","type":"quantitative",
   "scale":{"domain":[0.6578,0.67221],"nice":false,"zero":false},
   "axis":{"orient":"right","title":null,
    "values":[0.6581,0.6586,0.6591,0.6596,0.6601,0.6606,0.6611,0.6616,0.6621,0.6626,0.6631,0.6636,0.6641,0.6646,0.6651,0.6656,0.6661,0.6666,0.6671,0.6676,0.6681,0.6686,0.6691,0.6696,0.6701,0.6706,0.6711,0.6716,0.6721],
    "format":".5f","grid":true,"gridColor":"#C0C0C0","gridDash":[3,3],"gridWidth":1,
    "domain":false,"ticks":true,"tickColor":"#000000","tickSize":4,"tickWidth":1,
    "labelPadding":4,"labelFontSize":18,"labelFont":"Liberation Sans","labelColor":"#000000",
    "labelAlign":"left","labelBaseline":"middle","labelOverlap":false,"labelBound":false,"labelFlush":false}},
  "stroke":{"field":"lv","type":"nominal","legend":null,
   "scale":{"domain":["6","5","4","3","2","1","0","bid","low"],"range":["#C71585","#FF00FF","#1E90FF","#FF8C00","#FF4500","#556B2F","#1E90FF","#C0C0C0","#FF0000"]}},
  "strokeDash":{"field":"lv","type":"nominal","legend":null,
   "scale":{"domain":["6","5","4","3","2","1","0","bid","low"],"range":[[10,4,2,4],[2,2],[18,6],[3,3],[10,4,2,4],[3,3],[10,4,2,4],[1,0],[1,0]]}}
 }},
{"data":{"name":"levels"},
 "transform":[{"filter":"datum.lv === 'bid'"}],
 "mark":{"type":"rule","strokeWidth":1,"color":"#C0C0C0"},
 "encoding":{"y":{"field":"p","type":"quantitative"}}},
{"data":{"name":"bars"},
 "mark":{"type":"rule","color":"#000000","strokeWidth":1},
 "encoding":{
  "x":{"field":"i","type":"quantitative",
   "scale":{"domain":[-0.375,935.125],"nice":false,"zero":false},
   "axis":{"title":null,
    "values":[0,16,32,48,64,80,96,112,128,144,160,176,192,208,224,240,256,272,288,304,320,336,352,368,384,400,416,432,448,464,480,496,512,528,544,560,576,592,608,624,640,656,672,688,704,720,736,752,768,784,800,816,832,848,864,880,896,912,928],
    "labelExpr":"datum.value % 32 === 0 ? ['24 Apr 2023','24 Apr 17:20','24 Apr 20:00','24 Apr 22:40','25 Apr 01:40','25 Apr 04:20','25 Apr 07:00','25 Apr 09:40','25 Apr 12:20','25 Apr 15:00','25 Apr 17:40','25 Apr 20:20','25 Apr 23:00','26 Apr 02:00','26 Apr 04:40','26 Apr 07:20','26 Apr 10:00','26 Apr 12:40','26 Apr 15:20','26 Apr 18:00','26 Apr 20:40','26 Apr 23:20','27 Apr 02:20','27 Apr 05:00','27 Apr 07:40','27 Apr 10:20','27 Apr 13:00','27 Apr 15:40','27 Apr 18:20','27 Apr 21:00'][datum.value / 32] : ''",
    "grid":true,"gridColor":"#C0C0C0","gridDash":[3,3],"gridWidth":1,
    "domain":false,"ticks":true,"tickColor":"#000000","tickSize":4,"tickWidth":1,
    "tickOpacity":{"condition":{"test":"datum.value % 32 === 0","value":1},"value":0},
    "labelAlign":"left","labelBaseline":"top","labelPadding":8,"labelFontSize":18,"labelFont":"Liberation Sans","labelColor":"#000000",
    "labelOverlap":false,"labelBound":false,"labelFlush":false}},
  "y":{"field":"l","type":"quantitative"},
  "y2":{"field":"h"}
 }},
{"data":{"name":"bars"},
 "mark":{"type":"bar","size":2,"stroke":"#000000","strokeWidth":1},
 "encoding":{
  "x":{"field":"i","type":"quantitative"},
  "y":{"field":"o","type":"quantitative"},
  "y2":{"field":"c"},
  "fill":{"condition":{"test":"datum.c >= datum.o","value":"#FFFFFF"},"value":"#000000"}
 }},
{"data":{"values":[{}]},
 "mark":{"type":"point","shape":"square","size":20,"filled":false,"stroke":"#FF0000","strokeWidth":1,"opacity":1},
 "encoding":{"x":{"datum":934.4,"type":"quantitative"},"y":{"datum":0.65918,"type":"quantitative"}}},
{"data":{"values":[{}]},
 "mark":{"type":"point","shape":"M-1,-1L1,1M1,-1L-1,1","size":1000,"filled":false,"stroke":"#FF4A4F","strokeWidth":7,"strokeCap":"round","opacity":1},
 "encoding":{"x":{"datum":656.4,"type":"quantitative"},"y":{"datum":0.65912,"type":"quantitative"}}},
{"data":{"name":"levels"},
 "transform":[{"filter":"datum.lv === 'bid'"}],
 "mark":{"type":"bar","size":22,"clip":false},
 "encoding":{
  "x":{"datum":935.625,"type":"quantitative"},
  "x2":{"datum":955.625},
  "y":{"field":"p","type":"quantitative"},
  "fill":{"field":"lv","type":"nominal","legend":null,
   "scale":{"domain":["6","5","4","3","2","1","0","bid","low"],"range":["#C71585","#FF00FF","#1E90FF","#FF8C00","#FF4500","#556B2F","#1E90FF","#000000","#FF0000"]}}
 }},
{"data":{"name":"levels"},
 "transform":[{"filter":"datum.lv === 'bid'"}],
 "mark":{"type":"text","align":"left","baseline":"middle","fontSize":18,"font":"Liberation Sans","color":"#FFFFFF","clip":false},
 "encoding":{
  "x":{"datum":937.4,"type":"quantitative"},
  "y":{"field":"p","type":"quantitative"},
  "text":{"field":"p","type":"quantitative","format":".5f"}
 }},
{"data":{"name":"levels"},
 "transform":[{"filter":"datum.lv !== 'bid'"}],
 "mark":{"type":"bar","size":22,"clip":false},
 "encoding":{
  "x":{"datum":935.625,"type":"quantitative"},
  "x2":{"datum":955.625},
  "y":{"field":"p","type":"quantitative"},
  "fill":{"field":"lv","type":"nominal","legend":null}
 }},
{"data":{"name":"levels"},
 "transform":[{"filter":"datum.lv !== 'bid'"}],
 "mark":{"type":"text","align":"left","baseline":"middle","fontSize":18,"font":"Liberation Sans","color":"#FFFFFF","clip":false},
 "encoding":{
  "x":{"datum":937.4,"type":"quantitative"},
  "y":{"field":"p","type":"quantitative"},
  "text":{"field":"p","type":"quantitative","format":".5f"}
 }},
{"data":{"values":[{}]},
 "mark":{"type":"text","align":"left","baseline":"alphabetic","fontSize":18,"font":"Liberation Sans","color":"#000000","text":"▼ AUDUSD,M5  0.66285 0.66304 0.66246 0.66250"},
 "encoding":{"x":{"datum":0.875,"type":"quantitative"},"y":{"datum":0.67205,"type":"quantitative"}}}
]
}
